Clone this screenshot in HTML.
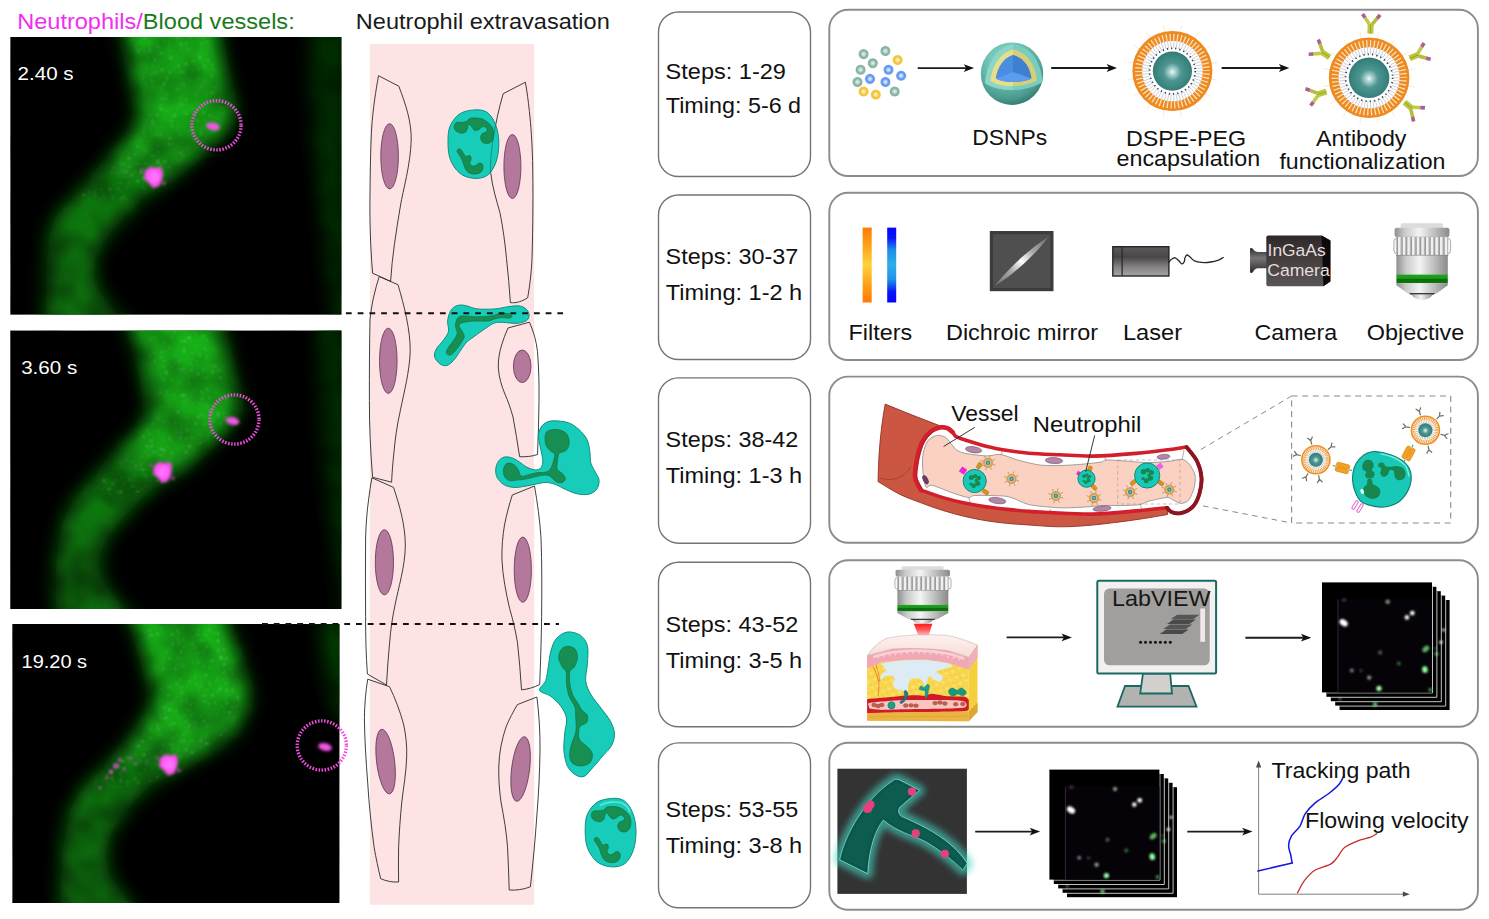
<!DOCTYPE html>
<html lang="en"><head><meta charset="utf-8"><title>Neutrophil tracking protocol overview</title>
<style>
html,body{margin:0;padding:0;background:#fff;}
body{width:1489px;height:919px;overflow:hidden;font-family:"Liberation Sans",sans-serif;}
svg{display:block;}
text{font-family:"Liberation Sans",sans-serif;}
</style></head><body>
<svg width="1489" height="919" viewBox="0 0 1489 919">
<!-- 00_defs.py -->
<defs>
<filter id="bl10" filterUnits="userSpaceOnUse" x="-50" y="-50" width="500" height="1050"><feGaussianBlur stdDeviation="9"/></filter>
<filter id="bl6" x="-30%" y="-30%" width="160%" height="160%"><feGaussianBlur stdDeviation="6"/></filter>
<filter id="bl3" x="-50%" y="-50%" width="200%" height="200%"><feGaussianBlur stdDeviation="3"/></filter>
<filter id="bl2" x="-50%" y="-50%" width="200%" height="200%"><feGaussianBlur stdDeviation="1.8"/></filter>
<filter id="bl1" x="-50%" y="-50%" width="200%" height="200%"><feGaussianBlur stdDeviation="1"/></filter>
<filter id="bl05" x="-50%" y="-50%" width="200%" height="200%"><feGaussianBlur stdDeviation="0.6"/></filter>
<filter id="speck" x="0" y="0" width="100%" height="100%">
  <feTurbulence type="fractalNoise" baseFrequency="0.35" numOctaves="2" seed="7" result="n"/>
  <feColorMatrix in="n" type="matrix" values="0 0 0 0 0.75  0 0 0 0 1  0 0 0 0 0.75  0 0 0 9 -6.1"/>
  <feGaussianBlur stdDeviation="0.9"/>
</filter>
<filter id="mott" x="0" y="0" width="100%" height="100%">
  <feTurbulence type="fractalNoise" baseFrequency="0.03" numOctaves="2" seed="11"/>
  <feColorMatrix type="matrix" values="0 0 0 0 0  0 0 0 0 0  0 0 0 0 0  0.75 0 0 0 -0.25"/>
</filter>
<marker id="ah" viewBox="0 0 12 10" refX="11" refY="5" markerWidth="12" markerHeight="10" markerUnits="userSpaceOnUse" orient="auto"><path d="M0,0.6 L12,5 L0,9.4 L3,5 Z" fill="#111"/></marker>
</defs>
<!-- 10_boxes.py -->
<rect x="658.5" y="12.0" width="152" height="164.5" rx="20" ry="20" fill="#fff" stroke="#747474" stroke-width="1.4"/>
<text x="665.6" y="78.5" font-size="22.0" fill="#111" textLength="120.3" lengthAdjust="spacingAndGlyphs" >Steps: 1-29</text>
<text x="665.8" y="113.4" font-size="22.0" fill="#111" textLength="135.3" lengthAdjust="spacingAndGlyphs" >Timing: 5-6 d</text>
<rect x="658.5" y="195.0" width="152" height="164.5" rx="20" ry="20" fill="#fff" stroke="#747474" stroke-width="1.4"/>
<text x="665.6" y="264.2" font-size="22.0" fill="#111" textLength="132.6" lengthAdjust="spacingAndGlyphs" >Steps: 30-37</text>
<text x="665.8" y="299.8" font-size="22.0" fill="#111" textLength="136.4" lengthAdjust="spacingAndGlyphs" >Timing: 1-2 h</text>
<rect x="658.5" y="377.9" width="152" height="165.3" rx="20" ry="20" fill="#fff" stroke="#747474" stroke-width="1.4"/>
<text x="665.6" y="447.2" font-size="22.0" fill="#111" textLength="132.6" lengthAdjust="spacingAndGlyphs" >Steps: 38-42</text>
<text x="665.8" y="482.7" font-size="22.0" fill="#111" textLength="136.4" lengthAdjust="spacingAndGlyphs" >Timing: 1-3 h</text>
<rect x="658.5" y="562.2" width="152" height="164.6" rx="20" ry="20" fill="#fff" stroke="#747474" stroke-width="1.4"/>
<text x="665.6" y="632.2" font-size="22.0" fill="#111" textLength="132.6" lengthAdjust="spacingAndGlyphs" >Steps: 43-52</text>
<text x="665.8" y="667.7" font-size="22.0" fill="#111" textLength="136.4" lengthAdjust="spacingAndGlyphs" >Timing: 3-5 h</text>
<rect x="658.5" y="742.9" width="152" height="164.9" rx="20" ry="20" fill="#fff" stroke="#747474" stroke-width="1.4"/>
<text x="665.6" y="817.0" font-size="22.0" fill="#111" textLength="132.6" lengthAdjust="spacingAndGlyphs" >Steps: 53-55</text>
<text x="665.8" y="852.7" font-size="22.0" fill="#111" textLength="136.4" lengthAdjust="spacingAndGlyphs" >Timing: 3-8 h</text>
<rect x="829.3" y="9.8" width="648.6" height="166.2" rx="18.8" ry="18.8" fill="#fff" stroke="#8c8c8c" stroke-width="1.9"/>
<rect x="829.3" y="192.8" width="648.6" height="167.2" rx="18.8" ry="18.8" fill="#fff" stroke="#8c8c8c" stroke-width="1.9"/>
<rect x="829.3" y="376.6" width="648.6" height="166.2" rx="18.8" ry="18.8" fill="#fff" stroke="#8c8c8c" stroke-width="1.9"/>
<rect x="829.3" y="560.3" width="648.6" height="166.5" rx="18.8" ry="18.8" fill="#fff" stroke="#8c8c8c" stroke-width="1.9"/>
<rect x="829.3" y="742.8" width="648.6" height="167.0" rx="18.8" ry="18.8" fill="#fff" stroke="#8c8c8c" stroke-width="1.9"/>
<!-- 20_micro.py -->
<text x="17.2" y="29.3" font-size="22" textLength="277.5" lengthAdjust="spacingAndGlyphs"><tspan fill="#f22df2">Neutrophils/</tspan><tspan fill="#1a7a1a">Blood vessels:</tspan></text>
<clipPath id="mc1"><rect x="10.4" y="37.0" width="331.0" height="277.6"/></clipPath>
<linearGradient id="vg1" gradientUnits="userSpaceOnUse" x1="0" y1="37.0" x2="0" y2="314.6"><stop offset="0" stop-color="#18b018"/><stop offset="0.40" stop-color="#18a818"/><stop offset="0.56" stop-color="#0e7a0e"/><stop offset="1" stop-color="#0a690a"/></linearGradient>
<rect x="10.4" y="37.0" width="331.0" height="277.6" fill="#000"/>
<g clip-path="url(#mc1)">
<path d="M309,20 L350,20 L350,330 L334,330 C322,230 308,120 309,20Z" fill="#043204" opacity="0.92" filter="url(#bl10)"/>
<path d="M120.0,10.0 C105.0,14.5 122.1,27.0 124.0,37.0 C125.9,47.0 129.3,59.5 131.5,70.0 C133.7,80.5 135.9,92.7 137.0,100.0 C138.1,107.3 138.7,109.0 138.0,114.0 C137.3,119.0 136.2,124.2 133.0,130.0 C129.8,135.8 124.7,141.5 119.0,148.5 C113.3,155.5 106.8,163.8 99.0,172.0 C91.2,180.2 79.8,189.9 72.4,198.0 C65.0,206.1 58.5,213.1 54.6,220.6 C50.7,228.1 50.3,235.6 49.0,243.0 C47.7,250.4 47.3,257.6 46.8,265.0 C46.2,272.4 45.9,279.3 45.7,287.5 C45.5,295.7 45.7,304.4 45.7,314.0 C45.8,323.6 31.1,339.8 46.0,345.0 C60.9,350.2 123.2,350.2 135.0,345.0 C146.8,339.8 123.3,323.6 117.0,314.0 C110.7,304.4 100.7,295.7 97.0,287.5 C93.3,279.3 93.6,272.4 94.7,265.0 C95.8,257.6 99.1,250.4 103.6,243.0 C108.1,235.6 114.8,228.1 121.5,220.6 C128.2,213.1 134.4,206.1 143.8,198.0 C153.2,189.9 168.0,180.0 178.0,172.0 C188.0,164.0 196.3,156.7 204.0,150.0 C211.7,143.3 219.3,138.0 224.0,132.0 C228.7,126.0 230.8,119.3 232.0,114.0 C233.2,108.7 232.3,107.3 231.0,100.0 C229.7,92.7 226.3,80.5 224.0,70.0 C221.7,59.5 219.1,47.0 217.4,37.0 C215.7,27.0 230.2,14.5 214.0,10.0 C197.8,5.5 135.0,5.5 120.0,10.0Z" fill="url(#vg1)" filter="url(#bl10)"/>
<clipPath id="mv1"><path d="M129.0,10.0 C117.0,14.5 131.1,27.0 133.0,37.0 C134.9,47.0 138.3,59.5 140.5,70.0 C142.7,80.5 144.9,92.7 146.0,100.0 C147.1,107.3 147.7,109.0 147.0,114.0 C146.3,119.0 145.2,124.2 142.0,130.0 C138.8,135.8 133.7,141.5 128.0,148.5 C122.3,155.5 115.8,163.8 108.0,172.0 C100.2,180.2 76.9,193.7 81.4,198.0 C85.9,202.3 120.2,202.3 134.8,198.0 C149.4,193.7 159.0,180.0 169.0,172.0 C179.0,164.0 187.3,156.7 195.0,150.0 C202.7,143.3 210.3,138.0 215.0,132.0 C219.7,126.0 221.8,119.3 223.0,114.0 C224.2,108.7 223.3,107.3 222.0,100.0 C220.7,92.7 217.3,80.5 215.0,70.0 C212.7,59.5 210.1,47.0 208.4,37.0 C206.7,27.0 218.2,14.5 205.0,10.0 C191.8,5.5 141.0,5.5 129.0,10.0Z"/></clipPath>
<g clip-path="url(#mv1)" opacity="0.5"><rect x="10.4" y="37.0" width="331.0" height="277.6" filter="url(#speck)"/></g>
<rect x="10.4" y="37.0" width="331.0" height="277.6" filter="url(#mott)"/>

<g filter="url(#bl2)"><path d="M153.0,176.0 m-8,-5 l5,-4 l6,1 l5,-1 l2,6 l-1,7 l-3,6 l-6,2 l-4,-5 l-5,-4Z" fill="#ff50f0"/><ellipse cx="154.0" cy="177.0" rx="5.5" ry="6" fill="#ff70ff"/><circle cx="164.0" cy="183.0" r="1.6" fill="#e048d8"/><circle cx="142.0" cy="170.0" r="1.3" fill="#d040c8"/></g>
<g filter="url(#bl2)"><ellipse cx="213.0" cy="126.5" rx="7" ry="3.8" fill="#f455e6" transform="rotate(12 213.0 126.5)"/></g>
</g>
<circle cx="216.5" cy="125.3" r="24.6" fill="none" stroke="#f04ae0" stroke-width="3.4" stroke-dasharray="1.5457 1.5457"/>
<text x="17.6" y="80.3" font-size="19.0" fill="#fff" textLength="56.0" lengthAdjust="spacingAndGlyphs" >2.40 s</text>
<clipPath id="mc2"><rect x="10.3" y="330.6" width="331.1" height="278.4"/></clipPath>
<linearGradient id="vg2" gradientUnits="userSpaceOnUse" x1="0" y1="330.6" x2="0" y2="609.0"><stop offset="0" stop-color="#18b018"/><stop offset="0.40" stop-color="#18a818"/><stop offset="0.56" stop-color="#0e7a0e"/><stop offset="1" stop-color="#0a690a"/></linearGradient>
<rect x="10.3" y="330.6" width="331.1" height="278.4" fill="#000"/>
<g clip-path="url(#mc2)">
<path d="M318,310 L352,310 L352,625 L344,625 C330,520 316,420 318,310Z" fill="#043204" opacity="0.92" filter="url(#bl10)"/>
<path d="M128.0,300.0 C113.8,305.0 129.2,319.4 131.5,330.0 C133.8,340.6 138.8,353.1 141.5,363.4 C144.2,373.7 146.3,384.6 147.5,392.0 C148.7,399.4 149.2,402.7 148.5,408.0 C147.8,413.3 146.6,418.3 143.0,424.0 C139.4,429.7 133.3,434.8 127.0,442.0 C120.7,449.2 112.6,458.6 105.0,467.0 C97.4,475.4 87.8,484.4 81.3,492.3 C74.8,500.2 69.2,507.2 65.7,514.6 C62.2,522.1 61.7,529.6 60.2,537.0 C58.7,544.4 57.5,551.6 56.8,559.0 C56.0,566.4 55.7,573.3 55.7,581.5 C55.7,589.7 56.4,598.2 56.8,608.0 C57.2,617.8 44.1,634.7 58.0,640.0 C71.9,645.3 129.1,645.3 140.0,640.0 C150.9,634.7 129.8,617.8 123.7,608.0 C117.6,598.2 107.7,589.7 103.6,581.5 C99.5,573.3 98.5,566.4 99.2,559.0 C99.9,551.6 103.5,544.4 108.0,537.0 C112.5,529.6 119.3,522.1 126.0,514.6 C132.7,507.2 138.2,500.2 148.2,492.3 C158.2,484.4 175.6,475.2 186.0,467.0 C196.4,458.8 203.4,450.0 210.7,443.0 C218.0,436.0 225.5,430.8 230.0,425.0 C234.5,419.2 236.4,413.5 237.5,408.0 C238.6,402.5 237.8,399.4 236.5,392.0 C235.2,384.6 232.2,373.7 229.6,363.4 C227.0,353.1 222.8,340.6 220.7,330.0 C218.6,319.4 232.4,305.0 217.0,300.0 C201.6,295.0 142.2,295.0 128.0,300.0Z" fill="url(#vg2)" filter="url(#bl10)"/>
<clipPath id="mv2"><path d="M137.0,300.0 C125.8,305.0 138.2,319.4 140.5,330.0 C142.8,340.6 147.8,353.1 150.5,363.4 C153.2,373.7 155.3,384.6 156.5,392.0 C157.7,399.4 158.2,402.7 157.5,408.0 C156.8,413.3 155.6,418.3 152.0,424.0 C148.4,429.7 142.3,434.8 136.0,442.0 C129.7,449.2 121.6,458.6 114.0,467.0 C106.4,475.4 86.1,488.1 90.3,492.3 C94.5,496.5 124.7,496.5 139.2,492.3 C153.6,488.1 166.6,475.2 177.0,467.0 C187.4,458.8 194.4,450.0 201.7,443.0 C209.0,436.0 216.5,430.8 221.0,425.0 C225.5,419.2 227.4,413.5 228.5,408.0 C229.6,402.5 228.8,399.4 227.5,392.0 C226.2,384.6 223.2,373.7 220.6,363.4 C218.0,353.1 213.8,340.6 211.7,330.0 C209.6,319.4 220.4,305.0 208.0,300.0 C195.6,295.0 148.2,295.0 137.0,300.0Z"/></clipPath>
<g clip-path="url(#mv2)" opacity="0.5"><rect x="10.3" y="330.6" width="331.1" height="278.4" filter="url(#speck)"/></g>
<rect x="10.3" y="330.6" width="331.1" height="278.4" filter="url(#mott)"/>

<g filter="url(#bl2)"><path d="M162.0,471.0 m-8,-5 l5,-4 l6,1 l5,-1 l2,6 l-1,7 l-3,6 l-6,2 l-4,-5 l-5,-4Z" fill="#ff50f0"/><ellipse cx="163.0" cy="472.0" rx="5.5" ry="6" fill="#ff70ff"/><circle cx="173.0" cy="478.0" r="1.6" fill="#e048d8"/><circle cx="151.0" cy="465.0" r="1.3" fill="#d040c8"/></g>
<g filter="url(#bl2)"><ellipse cx="232.5" cy="421.0" rx="7" ry="3.8" fill="#f455e6" transform="rotate(12 232.5 421.0)"/></g>
</g>
<circle cx="234.4" cy="419.5" r="24.6" fill="none" stroke="#f04ae0" stroke-width="3.4" stroke-dasharray="1.5457 1.5457"/>
<text x="21.2" y="374.4" font-size="19.0" fill="#fff" textLength="56.0" lengthAdjust="spacingAndGlyphs" >3.60 s</text>
<clipPath id="mc3"><rect x="12.4" y="624.0" width="327.0" height="279.0"/></clipPath>
<linearGradient id="vg3" gradientUnits="userSpaceOnUse" x1="0" y1="624.0" x2="0" y2="903.0"><stop offset="0" stop-color="#18b018"/><stop offset="0.40" stop-color="#18a818"/><stop offset="0.56" stop-color="#0e7a0e"/><stop offset="1" stop-color="#0a690a"/></linearGradient>
<rect x="12.4" y="624.0" width="327.0" height="279.0" fill="#000"/>
<g clip-path="url(#mc3)">
<path d="M320,600 L352,600 L352,722 L340,722 C328,690 318,650 320,600Z" fill="#043a04" filter="url(#bl10)"/>
<path d="M130.0,596.0 C115.4,600.7 132.1,614.0 134.5,624.0 C136.9,634.0 141.9,645.8 144.7,656.0 C147.4,666.2 149.9,677.3 151.0,685.0 C152.1,692.7 152.3,696.3 151.5,702.0 C150.7,707.7 149.2,713.0 146.0,719.0 C142.8,725.0 137.8,730.8 132.0,738.0 C126.2,745.2 118.8,754.2 111.0,762.0 C103.2,769.8 92.0,777.4 85.4,785.0 C78.9,792.6 74.9,800.1 71.7,807.7 C68.5,815.3 67.5,823.0 66.0,830.5 C64.5,838.0 63.3,845.4 62.5,853.0 C61.7,860.6 61.6,867.8 61.4,876.0 C61.2,884.2 61.3,892.2 61.4,902.0 C61.5,911.8 48.1,929.5 62.0,935.0 C75.9,940.5 133.9,940.5 145.0,935.0 C156.1,929.5 134.4,911.8 128.7,902.0 C122.9,892.2 114.3,884.2 110.5,876.0 C106.7,867.8 105.6,860.6 106.0,853.0 C106.4,845.4 109.0,838.0 112.8,830.5 C116.6,823.0 122.2,815.3 128.7,807.7 C135.2,800.1 141.4,792.6 151.6,785.0 C161.8,777.4 177.4,769.7 190.0,762.0 C202.6,754.3 218.2,746.2 227.0,739.0 C235.8,731.8 239.5,725.2 243.0,719.0 C246.5,712.8 247.3,707.7 248.0,702.0 C248.7,696.3 248.6,692.7 247.0,685.0 C245.4,677.3 241.7,666.2 238.4,656.0 C235.1,645.8 229.7,634.0 227.0,624.0 C224.3,614.0 238.2,600.7 222.0,596.0 C205.8,591.3 144.6,591.3 130.0,596.0Z" fill="url(#vg3)" filter="url(#bl10)"/>
<clipPath id="mv3"><path d="M139.0,596.0 C127.4,600.7 141.1,614.0 143.5,624.0 C145.9,634.0 150.9,645.8 153.7,656.0 C156.4,666.2 158.9,677.3 160.0,685.0 C161.1,692.7 161.3,696.3 160.5,702.0 C159.7,707.7 158.2,713.0 155.0,719.0 C151.8,725.0 146.8,730.8 141.0,738.0 C135.2,745.2 127.8,754.2 120.0,762.0 C112.2,769.8 90.6,781.2 94.4,785.0 C98.2,788.8 128.2,788.8 142.6,785.0 C157.0,781.2 168.4,769.7 181.0,762.0 C193.6,754.3 209.2,746.2 218.0,739.0 C226.8,731.8 230.5,725.2 234.0,719.0 C237.5,712.8 238.3,707.7 239.0,702.0 C239.7,696.3 239.6,692.7 238.0,685.0 C236.4,677.3 232.7,666.2 229.4,656.0 C226.1,645.8 220.7,634.0 218.0,624.0 C215.3,614.0 226.2,600.7 213.0,596.0 C199.8,591.3 150.6,591.3 139.0,596.0Z"/></clipPath>
<g clip-path="url(#mv3)" opacity="0.5"><rect x="12.4" y="624.0" width="327.0" height="279.0" filter="url(#speck)"/></g>
<rect x="12.4" y="624.0" width="327.0" height="279.0" filter="url(#mott)"/>
<g filter="url(#bl1)" fill="#c050b8" opacity="0.85"><circle cx="116" cy="766" r="3"/><circle cx="111" cy="772" r="2.4"/><circle cx="120" cy="760" r="2"/><circle cx="107" cy="778" r="1.6"/><circle cx="124" cy="769" r="1.8"/><circle cx="100" cy="788" r="1.4"/><circle cx="130" cy="758" r="1.5"/><circle cx="136" cy="764" r="1.3"/></g>
<g filter="url(#bl2)"><path d="M168.0,763.5 m-8,-5 l5,-4 l6,1 l5,-1 l2,6 l-1,7 l-3,6 l-6,2 l-4,-5 l-5,-4Z" fill="#ff50f0"/><ellipse cx="169.0" cy="764.5" rx="5.5" ry="6" fill="#ff70ff"/><circle cx="179.0" cy="770.5" r="1.6" fill="#e048d8"/><circle cx="157.0" cy="757.5" r="1.3" fill="#d040c8"/></g>
<g filter="url(#bl2)"><ellipse cx="325.0" cy="747.0" rx="7" ry="3.8" fill="#f455e6" transform="rotate(12 325.0 747.0)"/></g>
</g>
<circle cx="321.8" cy="745.5" r="24.6" fill="none" stroke="#f04ae0" stroke-width="3.4" stroke-dasharray="1.5457 1.5457"/>
<text x="21.6" y="667.8" font-size="19.0" fill="#fff" textLength="65.5" lengthAdjust="spacingAndGlyphs" >19.20 s</text>
<!-- 30_middle.py -->
<text x="355.8" y="28.6" font-size="21.8" fill="#1a1a1a" textLength="254" lengthAdjust="spacingAndGlyphs">Neutrophil extravasation</text>
<rect x="369.9" y="44" width="164.2" height="860.7" fill="#fde3e3"/>
<path d="M378.5,75.7 L398.8,86.2 C406,105 411.5,122 411.2,140 C410.5,165 403,190 400.4,206 C396,232 392,258 390.6,281.4 L372.6,273.2 C370.2,245 369.6,215 370,193 C370.3,165 370.8,142 371.7,128 C373,108 376,90 378.5,75.7Z" fill="none" stroke="#2a2a2a" stroke-width="0.9" stroke-linejoin="round"/>
<path d="M525.4,82.2 L503.2,93.7 C499,108 495.5,124 493.4,137.7 C491,152 490,164 490.8,173.6 C492.5,188 496.5,200 500,212.8 C503,228 505,243 506.5,258.5 C508,273 509.5,288 510.4,302.6 C516,303.5 523,301 527.7,297.7 C530,285 531.5,271 532,258.5 C533,225 533.2,190 532.6,160.6 C532,142 531,126 529.4,111.6 C528.3,101 527,91 525.4,82.2Z" fill="none" stroke="#2a2a2a" stroke-width="0.9" stroke-linejoin="round"/>
<path d="M379.2,276.5 L398,284.7 C404,305 410.5,330 410.2,351.6 C409.5,372 404,392 400.4,410.4 C397,425 395,440 393.9,452.8 C392.8,463 392,473 391.6,482.2 L372.6,477.3 C370.5,452 369.3,425 369.4,400.6 C369.3,372 369.5,345 370,319 C371.5,304 375,290 379.2,276.5Z" fill="none" stroke="#2a2a2a" stroke-width="0.9" stroke-linejoin="round"/>
<path d="M508,328 L529.4,322.2 C533.5,331 536.3,341 537.5,351.6 C538.8,368 539.2,384 539,400.6 C538.8,419 538.3,437 537.5,454.5 C532,456.5 525,457 519.6,456.7 C517.5,443 515.5,430 513,417 C510.5,408 508,401 504.9,394 C501.5,386 499,377 498.3,368 C498,360 499.5,352 501.6,345 C503.5,339 505.5,333.5 508,328Z" fill="none" stroke="#2a2a2a" stroke-width="0.9" stroke-linejoin="round"/>
<path d="M371.9,477.8 L393.5,487.4 C399.5,505 405.5,526 405.3,546.2 C405,567 398.5,587 394.8,606.2 C392.3,618 390.6,630 389.6,642.8 C388.3,657 387.2,671 386.5,685 L367.4,674 C366,655 365.6,636 365.6,616.7 C365.4,590 365.4,564 365.6,538 C366,524 367,511 368.7,499 C369.5,492 370.6,485 371.9,477.8Z" fill="none" stroke="#2a2a2a" stroke-width="0.9" stroke-linejoin="round"/>
<path d="M512.3,495 L534.5,486 C537.5,503 539.8,520 541,538 C542,564 541.9,590 541.6,616.7 C541.3,640 540.6,662 539.7,684.5 C534,687.5 527.5,689.3 521.5,689.8 C520.5,674 519.2,658 517.5,642.8 C515.6,631 513,620 509.7,608.8 C506,593 502.6,576 501.9,559 C501.7,547 502.7,536 504.5,525 C506.5,515 509,505 512.3,495Z" fill="none" stroke="#2a2a2a" stroke-width="0.9" stroke-linejoin="round"/>
<path d="M367.7,679.2 L389.5,686.7 C395,698 400,711 403.5,724 C406,735 407,746 406.7,756.7 C406.3,772 403.5,787 401.8,802 C400.3,817 399.2,832 398.6,847.8 C398.4,859 398.4,871 398.6,882 C392.5,882.5 386,881 380.7,878.7 C378.3,869 376,858 374.2,847.8 C371.2,826 369,804 367.7,782.7 C366,761 364.6,739 364.4,717.6 C364.6,704 365.8,691 367.7,679.2Z" fill="none" stroke="#2a2a2a" stroke-width="0.9" stroke-linejoin="round"/>
<path d="M517.4,704.6 L536.9,697 C539,714 540.2,732 540,750 C539.8,772 538.6,794 536.9,815 C535.3,839 533,863 530.4,886.8 C523.5,889.5 516,890.5 509.2,890 C508.8,876 508.3,862 507.6,847.8 C506.5,832 503.8,817 501,802 C499.3,790 498.5,778 498.8,766 C499.2,752 502,739 506,727 C509.3,719 513,712 517.4,704.6Z" fill="none" stroke="#2a2a2a" stroke-width="0.9" stroke-linejoin="round"/>
<ellipse cx="389.6" cy="156.3" rx="8.8" ry="32.6" fill="#b3789c" stroke="#5e3550" stroke-width="0.8" transform="rotate(0 389.6 156.3)"/>
<ellipse cx="512.4" cy="166.5" rx="8.5" ry="32.0" fill="#b3789c" stroke="#5e3550" stroke-width="0.8" transform="rotate(0 512.4 166.5)"/>
<ellipse cx="388.3" cy="360.8" rx="8.8" ry="32.6" fill="#b3789c" stroke="#5e3550" stroke-width="0.8" transform="rotate(0 388.3 360.8)"/>
<ellipse cx="522.2" cy="366.3" rx="8.8" ry="16.3" fill="#b3789c" stroke="#5e3550" stroke-width="0.8" transform="rotate(0 522.2 366.3)"/>
<ellipse cx="384.4" cy="562.3" rx="9.1" ry="32.6" fill="#b3789c" stroke="#5e3550" stroke-width="0.8" transform="rotate(0 384.4 562.3)"/>
<ellipse cx="522.8" cy="569.7" rx="8.6" ry="32.6" fill="#b3789c" stroke="#5e3550" stroke-width="0.8" transform="rotate(0 522.8 569.7)"/>
<ellipse cx="385.6" cy="761.6" rx="9.0" ry="32.5" fill="#b3789c" stroke="#5e3550" stroke-width="0.8" transform="rotate(-7 385.6 761.6)"/>
<ellipse cx="520.6" cy="769.0" rx="9.0" ry="32.5" fill="#b3789c" stroke="#5e3550" stroke-width="0.8" transform="rotate(7 520.6 769.0)"/>
<path d="M473.5,110.0 C478.0,109.7 483.0,109.7 486.6,112.0 C490.2,114.3 493.3,119.0 495.3,123.9 C497.3,128.8 498.6,135.1 498.8,141.3 C499.0,147.5 498.2,155.3 496.4,160.9 C494.5,166.5 491.5,172.2 487.7,175.1 C483.9,178.0 478.2,178.7 473.5,178.3 C468.8,177.9 463.3,176.2 459.4,172.9 C455.5,169.7 452.0,164.1 450.1,158.8 C448.2,153.5 448.0,146.8 448.0,141.3 C448.0,135.9 448.2,130.6 450.1,126.1 C452.0,121.6 455.5,116.8 459.4,114.1 C463.3,111.4 469.0,110.3 473.5,110.0Z" fill="#17ccb9" stroke="#0e8f80" stroke-width="1"/>
<path d="M454.5,124.5 C455.0,123.4 455.9,122.7 457.2,122.3 C458.6,122.0 461.1,122.5 462.7,122.3 C464.3,122.1 465.9,121.9 467.0,121.2 C468.2,120.6 468.3,119.0 469.8,118.5 C471.2,118.0 473.7,117.9 475.7,118.0 C477.8,118.1 480.3,118.3 482.3,119.0 C484.3,119.8 486.1,121.0 487.7,122.3 C489.3,123.7 491.1,125.5 492.1,127.2 C493.1,128.9 493.5,130.8 493.7,132.7 C493.9,134.5 493.6,136.6 493.2,138.1 C492.7,139.6 492.1,141.0 491.0,141.9 C489.9,142.8 488.1,143.5 486.6,143.5 C485.2,143.5 483.3,142.9 482.3,141.9 C481.3,140.9 480.6,138.9 480.6,137.5 C480.6,136.2 481.4,134.6 482.3,133.7 C483.2,132.8 485.3,132.8 486.1,132.1 C486.9,131.4 487.4,130.3 487.2,129.4 C486.9,128.5 485.4,127.0 484.5,126.7 C483.5,126.3 482.6,126.8 481.7,127.2 C480.8,127.7 480.0,128.8 479.0,129.4 C478.0,129.9 476.7,130.6 475.7,130.5 C474.8,130.4 473.8,129.7 473.0,128.8 C472.2,128.0 471.6,126.3 470.9,125.6 C470.1,124.9 469.2,124.2 468.7,124.5 C468.1,124.8 467.9,126.1 467.6,127.2 C467.2,128.3 467.3,130.0 466.5,131.0 C465.7,132.0 464.1,133.0 462.7,133.2 C461.2,133.4 459.2,132.8 457.8,132.1 C456.4,131.4 455.1,130.1 454.5,128.8 C454.0,127.6 454.1,125.6 454.5,124.5Z" fill="#178f52" stroke="#12703f" stroke-width="0.7"/>
<path d="M457.8,149.5 C458.3,149.1 459.2,148.7 460.0,149.0 C460.7,149.2 461.4,150.2 462.1,151.1 C462.9,152.1 463.6,154.1 464.3,155.0 C465.0,155.9 465.8,156.5 466.5,156.6 C467.2,156.7 467.9,155.5 468.7,155.5 C469.4,155.5 470.5,155.9 470.9,156.6 C471.2,157.3 471.0,158.8 470.9,159.9 C470.7,160.9 469.6,162.1 469.8,163.1 C469.9,164.1 471.0,165.4 471.9,165.8 C472.8,166.3 474.2,166.2 475.2,165.8 C476.2,165.5 477.0,164.1 477.9,163.7 C478.8,163.2 479.8,162.8 480.6,163.1 C481.5,163.4 482.5,164.3 482.8,165.3 C483.2,166.3 483.2,167.9 482.8,169.1 C482.5,170.3 481.7,171.6 480.6,172.4 C479.6,173.2 477.8,173.8 476.3,174.0 C474.8,174.2 472.8,174.1 471.4,173.8 C469.9,173.4 468.7,172.8 467.6,171.8 C466.5,170.9 465.6,169.5 464.9,168.0 C464.1,166.6 463.8,164.7 463.2,163.1 C462.7,161.6 462.3,160.2 461.6,158.8 C460.9,157.3 459.6,155.6 458.9,154.4 C458.1,153.2 457.2,152.2 457.0,151.4 C456.9,150.6 457.3,149.9 457.8,149.5Z" fill="#178f52" stroke="#12703f" stroke-width="0.7"/>
<path d="M525.4,82.2 L503.2,93.7 C499,108 495.5,124 493.4,137.7 C491,152 490,164 490.8,173.6 C492.5,188 496.5,200 500,212.8 C503,228 505,243 506.5,258.5 C508,273 509.5,288 510.4,302.6 C516,303.5 523,301 527.7,297.7 C530,285 531.5,271 532,258.5 C533,225 533.2,190 532.6,160.6 C532,142 531,126 529.4,111.6 C528.3,101 527,91 525.4,82.2Z" fill="none" stroke="#0d6f63" stroke-width="0.8" opacity="0.8" clip-path="url(#n1clip)"/>
<clipPath id="n1clip"><path d="M473.5,110.0 C478.0,109.7 483.0,109.7 486.6,112.0 C490.2,114.3 493.3,119.0 495.3,123.9 C497.3,128.8 498.6,135.1 498.8,141.3 C499.0,147.5 498.2,155.3 496.4,160.9 C494.5,166.5 491.5,172.2 487.7,175.1 C483.9,178.0 478.2,178.7 473.5,178.3 C468.8,177.9 463.3,176.2 459.4,172.9 C455.5,169.7 452.0,164.1 450.1,158.8 C448.2,153.5 448.0,146.8 448.0,141.3 C448.0,135.9 448.2,130.6 450.1,126.1 C452.0,121.6 455.5,116.8 459.4,114.1 C463.3,111.4 469.0,110.3 473.5,110.0Z"/></clipPath>
<path d="M459.8,305.0 C461.9,304.9 463.9,305.2 466.8,305.9 C469.7,306.5 472.6,308.4 477.3,308.9 C481.9,309.4 489.6,309.3 494.7,308.9 C499.7,308.6 503.7,307.3 507.7,306.8 C511.8,306.2 516.0,305.5 519.1,305.9 C522.1,306.2 524.3,307.5 526.0,308.9 C527.7,310.4 528.9,312.7 529.1,314.6 C529.2,316.5 528.8,318.8 526.9,320.3 C524.9,321.7 521.2,322.9 517.3,323.3 C513.4,323.7 507.2,322.5 503.4,322.4 C499.6,322.4 497.6,321.9 494.7,322.9 C491.8,323.8 489.4,325.8 486.0,328.1 C482.5,330.4 477.1,334.3 473.8,336.8 C470.4,339.3 468.3,340.4 465.9,342.9 C463.6,345.4 461.9,348.7 459.8,351.6 C457.8,354.5 455.9,358.0 453.7,360.3 C451.6,362.6 449.1,365.0 446.8,365.5 C444.4,366.1 441.8,365.2 439.8,363.8 C437.8,362.3 435.2,359.3 434.6,356.8 C434.0,354.4 434.9,351.8 436.3,349.0 C437.8,346.2 441.3,343.2 443.3,340.3 C445.3,337.4 447.8,334.8 448.5,331.6 C449.2,328.4 447.4,324.5 447.6,321.1 C447.9,317.8 449.1,313.9 450.3,311.5 C451.4,309.2 453.0,307.8 454.6,306.8 C456.2,305.7 457.8,305.2 459.8,305.0Z" fill="#17ccb9" stroke="#0e8f80" stroke-width="1"/>
<path d="M458.1,317.6 C459.5,316.0 461.0,316.0 464.2,315.9 C467.4,315.8 472.8,316.8 477.3,316.8 C481.8,316.8 487.4,316.4 491.2,315.9 C495.0,315.4 497.0,314.1 499.9,313.7 C502.8,313.4 506.6,313.4 508.6,313.7 C510.6,314.1 511.9,315.2 512.1,315.9 C512.2,316.6 511.2,317.8 509.5,318.1 C507.7,318.4 504.1,317.5 501.6,317.6 C499.2,317.8 497.0,318.4 494.7,318.9 C492.3,319.5 491.2,320.8 487.7,321.1 C484.2,321.5 478.1,320.8 473.8,321.1 C469.4,321.4 464.0,322.0 461.6,322.9 C459.2,323.7 459.3,324.9 459.4,326.4 C459.5,327.8 461.6,329.8 462.4,331.6 C463.2,333.3 464.3,335.1 464.2,336.8 C464.0,338.5 463.0,339.7 461.6,342.0 C460.1,344.3 457.4,348.6 455.5,350.7 C453.6,352.9 451.8,354.7 450.3,355.1 C448.7,355.5 446.6,354.2 446.3,352.9 C446.0,351.6 447.3,349.4 448.5,347.3 C449.7,345.1 452.3,342.6 453.7,340.3 C455.2,338.0 456.9,335.8 457.2,333.3 C457.5,330.9 455.3,328.1 455.5,325.5 C455.6,322.9 456.6,319.2 458.1,317.6Z" fill="#178f52" stroke="#12703f" stroke-width="0.7"/>
<path d="M553.6,420.8 C557.3,420.8 564.0,421.3 568.3,422.7 C572.5,424.2 575.9,426.8 579.0,429.6 C582.1,432.4 585.1,435.8 586.9,439.4 C588.7,443.0 589.2,447.2 589.8,451.1 C590.5,455.1 589.8,459.3 590.8,462.9 C591.8,466.5 594.3,469.8 595.7,472.7 C597.1,475.6 599.0,477.8 599.1,480.5 C599.3,483.3 598.4,487.1 596.7,489.3 C595.0,491.6 592.1,493.5 588.8,494.2 C585.6,495.0 581.0,494.6 577.1,493.8 C573.2,492.9 568.9,490.9 565.3,489.3 C561.7,487.8 558.8,485.6 555.5,484.5 C552.3,483.3 549.3,482.5 545.7,482.5 C542.1,482.5 537.6,483.8 534.0,484.5 C530.4,485.1 527.6,485.9 524.2,486.4 C520.8,486.9 516.8,487.7 513.4,487.4 C510.0,487.1 506.3,486.1 503.6,484.5 C500.9,482.8 498.6,480.2 497.2,477.6 C495.9,475.0 495.5,471.6 495.8,468.8 C496.0,466.0 497.2,462.9 498.7,460.9 C500.2,459.0 502.3,457.5 504.6,457.0 C506.9,456.5 510.0,457.2 512.4,458.0 C514.9,458.8 517.0,460.5 519.3,461.9 C521.6,463.4 523.7,465.5 526.1,466.8 C528.6,468.1 531.7,469.4 534.0,469.8 C536.3,470.1 538.4,469.9 539.9,468.8 C541.3,467.6 542.5,465.3 542.8,462.9 C543.1,460.5 542.3,457.0 541.8,454.1 C541.3,451.1 540.4,448.4 539.9,445.3 C539.3,442.2 538.2,438.4 538.4,435.5 C538.6,432.5 539.6,429.8 540.8,427.6 C542.1,425.5 543.6,423.9 545.7,422.7 C547.9,421.6 549.8,420.8 553.6,420.8Z" fill="#17ccb9" stroke="#0e8f80" stroke-width="1"/>
<path d="M547.7,431.1 C549.7,429.9 554.4,429.2 557.5,429.6 C560.6,430.0 564.3,431.4 566.3,433.5 C568.3,435.6 569.2,439.6 569.2,442.3 C569.2,445.1 567.9,448.4 566.3,450.2 C564.7,452.0 560.8,452.0 559.5,453.1 C558.1,454.2 558.4,455.1 558.0,457.0 C557.6,459.0 557.1,462.7 557.0,464.9 C556.9,467.0 556.6,468.3 557.5,469.8 C558.4,471.2 561.1,472.2 562.4,473.7 C563.7,475.1 565.3,477.1 565.3,478.6 C565.3,480.0 563.9,481.9 562.4,482.5 C560.9,483.1 558.1,482.7 556.5,482.0 C554.9,481.3 553.9,479.6 552.6,478.6 C551.3,477.5 550.1,476.2 548.7,475.6 C547.2,475.1 545.9,475.0 543.8,475.1 C541.7,475.3 538.6,476.0 535.9,476.6 C533.3,477.2 530.4,478.1 528.1,478.6 C525.8,479.1 524.0,479.3 522.2,479.6 C520.4,479.8 519.5,479.9 517.3,480.0 C515.2,480.2 511.6,481.1 509.5,480.5 C507.4,480.0 505.6,478.6 504.6,476.6 C503.6,474.7 503.2,471.0 503.6,468.8 C504.0,466.6 505.4,464.1 507.0,463.4 C508.7,462.7 511.5,463.3 513.4,464.4 C515.3,465.4 517.0,467.8 518.3,469.8 C519.6,471.7 519.5,475.3 521.2,476.1 C523.0,476.9 526.5,475.2 529.1,474.7 C531.7,474.1 534.1,473.1 536.9,472.7 C539.7,472.3 543.5,472.9 545.7,472.2 C548.0,471.6 549.3,470.7 550.6,468.8 C551.9,466.9 552.9,463.4 553.6,460.9 C554.2,458.5 555.2,455.9 554.6,454.1 C553.9,452.3 551.1,451.8 549.7,450.2 C548.2,448.5 546.5,446.6 545.7,444.3 C545.0,442.0 544.9,438.7 545.2,436.4 C545.6,434.2 545.7,432.2 547.7,431.1Z" fill="#178f52" stroke="#12703f" stroke-width="0.7"/>
<path d="M567.4,632.0 C571.5,631.4 577.1,633.1 580.5,635.4 C583.8,637.8 586.3,641.2 587.4,645.9 C588.6,650.5 587.7,657.5 587.4,663.3 C587.2,669.1 585.1,675.5 585.7,680.7 C586.3,685.9 588.3,690.0 590.9,694.6 C593.5,699.3 598.2,704.2 601.4,708.6 C604.6,712.9 607.9,716.7 610.1,720.7 C612.2,724.8 614.1,728.9 614.4,732.9 C614.7,737.0 613.7,741.3 611.8,745.1 C609.9,748.9 606.3,751.8 603.1,755.5 C599.9,759.3 595.9,764.3 592.7,767.7 C589.5,771.2 586.9,775.3 584.0,776.4 C581.1,777.6 578.0,776.4 575.3,774.7 C572.5,773.0 569.3,770.1 567.4,766.0 C565.5,761.9 564.4,755.8 563.9,750.3 C563.5,744.8 564.4,738.1 564.8,732.9 C565.2,727.7 567.1,723.3 566.6,719.0 C566.0,714.6 563.9,710.6 561.3,706.8 C558.7,703.0 554.5,699.1 550.9,696.4 C547.3,693.6 540.4,692.9 539.6,690.3 C538.7,687.7 544.2,684.6 545.7,680.7 C547.1,676.8 547.4,671.7 548.3,666.8 C549.1,661.8 549.6,655.8 550.9,651.1 C552.2,646.5 553.4,642.1 556.1,638.9 C558.9,635.7 563.4,632.5 567.4,632.0Z" fill="#17ccb9" stroke="#0e8f80" stroke-width="1"/>
<path d="M558.7,658.1 C558.6,655.2 559.8,651.3 561.3,649.4 C562.9,647.4 565.6,646.2 567.9,646.2 C570.3,646.2 573.7,647.4 575.3,649.4 C576.8,651.3 577.5,655.2 577.3,658.1 C577.2,661.0 575.6,664.6 574.4,666.8 C573.2,669.0 570.8,668.5 570.0,671.1 C569.3,673.7 569.3,678.5 569.7,682.4 C570.1,686.4 571.3,691.1 572.6,694.6 C574.0,698.1 576.3,700.7 577.9,703.3 C579.5,705.9 580.6,708.3 582.2,710.3 C583.8,712.3 586.7,713.5 587.4,715.5 C588.2,717.5 587.7,720.7 586.6,722.5 C585.4,724.2 581.8,724.5 580.5,726.0 C579.2,727.4 578.9,728.9 578.7,731.2 C578.6,733.5 578.2,737.3 579.6,739.9 C581.1,742.5 585.3,744.5 587.4,746.8 C589.6,749.2 591.9,751.2 592.3,753.8 C592.8,756.4 592.0,760.5 590.1,762.5 C588.1,764.5 583.5,766.0 580.5,766.0 C577.4,766.0 573.6,764.5 571.8,762.5 C570.0,760.5 569.7,757.0 569.7,753.8 C569.7,750.6 570.8,746.8 571.8,743.4 C572.8,739.9 574.9,736.1 575.6,732.9 C576.3,729.7 576.1,727.1 576.1,724.2 C576.1,721.3 575.8,718.4 575.6,715.5 C575.4,712.6 576.0,710.0 574.9,706.8 C573.8,703.6 570.6,700.1 569.2,696.4 C567.8,692.6 567.0,688.2 566.6,684.2 C566.1,680.1 566.9,674.9 566.2,672.0 C565.5,669.1 563.4,669.1 562.2,666.8 C561.0,664.5 558.9,661.0 558.7,658.1Z" fill="#178f52" stroke="#12703f" stroke-width="0.7"/>
<path d="M610.7,798.5 C615.2,798.1 620.2,798.2 623.8,800.5 C627.4,802.8 630.5,807.5 632.5,812.4 C634.5,817.3 635.8,823.6 636.0,829.8 C636.2,836.0 635.4,843.8 633.6,849.4 C631.7,855.0 628.7,860.7 624.9,863.6 C621.1,866.5 615.4,867.2 610.7,866.8 C606.0,866.4 600.5,864.6 596.6,861.4 C592.7,858.1 589.2,852.6 587.3,847.3 C585.4,842.0 585.2,835.2 585.2,829.8 C585.2,824.3 585.4,819.1 587.3,814.6 C589.2,810.1 592.7,805.3 596.6,802.6 C600.5,799.9 606.2,798.9 610.7,798.5Z" fill="#17ccb9" stroke="#0e8f80" stroke-width="1"/>
<path d="M600.5,805.2 C606,801.8 616,801 622.3,803.2 C626.3,805 628.8,808.2 629.8,811.8" fill="none" stroke="#5fe6d6" stroke-width="1.6" stroke-linecap="round"/>
<path d="M591.7,813.0 C592.2,811.9 593.1,811.2 594.4,810.8 C595.8,810.5 598.3,811.0 599.9,810.8 C601.5,810.6 603.1,810.4 604.2,809.7 C605.4,809.1 605.5,807.5 607.0,807.0 C608.4,806.5 610.9,806.4 612.9,806.5 C615.0,806.6 617.5,806.8 619.5,807.5 C621.5,808.3 623.3,809.5 624.9,810.8 C626.5,812.2 628.3,814.0 629.3,815.7 C630.3,817.4 630.7,819.3 630.9,821.2 C631.1,823.0 630.8,825.1 630.4,826.6 C629.9,828.1 629.3,829.5 628.2,830.4 C627.1,831.3 625.3,832.0 623.8,832.0 C622.4,832.0 620.5,831.4 619.5,830.4 C618.5,829.4 617.8,827.4 617.8,826.0 C617.8,824.7 618.6,823.1 619.5,822.2 C620.4,821.3 622.5,821.3 623.3,820.6 C624.1,819.9 624.6,818.8 624.4,817.9 C624.1,817.0 622.6,815.5 621.7,815.2 C620.7,814.8 619.8,815.3 618.9,815.7 C618.0,816.2 617.2,817.3 616.2,817.9 C615.2,818.4 613.9,819.1 612.9,819.0 C612.0,818.9 611.0,818.2 610.2,817.3 C609.4,816.5 608.8,814.8 608.1,814.1 C607.3,813.4 606.4,812.7 605.9,813.0 C605.3,813.3 605.1,814.6 604.8,815.7 C604.4,816.8 604.5,818.5 603.7,819.5 C602.9,820.5 601.3,821.5 599.9,821.7 C598.4,821.9 596.4,821.3 595.0,820.6 C593.6,819.9 592.3,818.6 591.7,817.3 C591.2,816.1 591.3,814.1 591.7,813.0Z" fill="#178f52" stroke="#12703f" stroke-width="0.7"/>
<path d="M595.0,838.0 C595.5,837.6 596.4,837.2 597.2,837.5 C597.9,837.7 598.6,838.7 599.3,839.6 C600.1,840.6 600.8,842.6 601.5,843.5 C602.2,844.4 603.0,845.0 603.7,845.1 C604.4,845.2 605.1,844.0 605.9,844.0 C606.6,844.0 607.7,844.4 608.1,845.1 C608.4,845.8 608.2,847.3 608.1,848.4 C607.9,849.4 606.8,850.6 607.0,851.6 C607.1,852.6 608.2,853.9 609.1,854.3 C610.0,854.8 611.4,854.7 612.4,854.3 C613.4,854.0 614.2,852.6 615.1,852.2 C616.0,851.7 617.0,851.3 617.8,851.6 C618.7,851.9 619.7,852.8 620.0,853.8 C620.4,854.8 620.4,856.4 620.0,857.6 C619.7,858.8 618.9,860.1 617.8,860.9 C616.8,861.7 615.0,862.3 613.5,862.5 C612.0,862.7 610.0,862.6 608.6,862.3 C607.1,861.9 605.9,861.3 604.8,860.3 C603.7,859.4 602.8,858.0 602.1,856.5 C601.3,855.1 601.0,853.2 600.4,851.6 C599.9,850.1 599.5,848.7 598.8,847.3 C598.1,845.8 596.8,844.1 596.1,842.9 C595.3,841.7 594.4,840.7 594.2,839.9 C594.1,839.1 594.5,838.4 595.0,838.0Z" fill="#178f52" stroke="#12703f" stroke-width="0.7"/>
<path d="M345.9,313.2 H563" stroke="#111" stroke-width="1.9" stroke-dasharray="5.8 5.95" fill="none"/>
<path d="M262,624 H559" stroke="#111" stroke-width="1.9" stroke-dasharray="5.8 5.95" fill="none"/>
<!-- 40_panel1.py -->
<defs>
<radialGradient id="coreg" cx="50%" cy="52%" r="50%"><stop offset="0" stop-color="#f2fbfa"/><stop offset="0.12" stop-color="#b9dcd9"/><stop offset="0.45" stop-color="#4d9691"/><stop offset="0.8" stop-color="#3c8782"/><stop offset="1" stop-color="#357c78"/></radialGradient>
<radialGradient id="dg" cx="50%" cy="50%" r="50%"><stop offset="0" stop-color="#e8f2ee"/><stop offset="0.3" stop-color="#c4dcd2"/><stop offset="0.62" stop-color="#86b3a3"/><stop offset="0.85" stop-color="#8ab5a6"/><stop offset="1" stop-color="#a8c8bc" stop-opacity="0.5"/></radialGradient>
<radialGradient id="dy" cx="50%" cy="50%" r="50%"><stop offset="0" stop-color="#fff8dc"/><stop offset="0.3" stop-color="#fde48e"/><stop offset="0.62" stop-color="#f3c136"/><stop offset="0.85" stop-color="#f4c848"/><stop offset="1" stop-color="#f8d878" stop-opacity="0.5"/></radialGradient>
<radialGradient id="db" cx="50%" cy="50%" r="50%"><stop offset="0" stop-color="#eaf2ff"/><stop offset="0.3" stop-color="#b4d0fb"/><stop offset="0.62" stop-color="#5a95f0"/><stop offset="0.85" stop-color="#6ea2f2"/><stop offset="1" stop-color="#98bef6" stop-opacity="0.5"/></radialGradient>
<radialGradient id="sph" cx="42%" cy="30%" r="75%"><stop offset="0" stop-color="#9adfd2"/><stop offset="0.45" stop-color="#6dc0b2"/><stop offset="0.8" stop-color="#4a9a8e"/><stop offset="1" stop-color="#2f6f68"/></radialGradient>
</defs>
<circle cx="863.6" cy="54.1" r="5.3" fill="url(#dg)"/>
<circle cx="885.4" cy="51.0" r="5.3" fill="url(#dg)"/>
<circle cx="897.6" cy="60.0" r="5.3" fill="url(#dy)"/>
<circle cx="872.8" cy="63.2" r="5.3" fill="url(#dg)"/>
<circle cx="860.6" cy="69.8" r="5.3" fill="url(#dg)"/>
<circle cx="888.5" cy="69.8" r="5.3" fill="url(#db)"/>
<circle cx="901.1" cy="75.7" r="5.3" fill="url(#db)"/>
<circle cx="870.0" cy="78.9" r="5.3" fill="url(#db)"/>
<circle cx="857.5" cy="82.0" r="5.3" fill="url(#dg)"/>
<circle cx="885.4" cy="82.0" r="5.3" fill="url(#db)"/>
<circle cx="863.6" cy="91.5" r="5.3" fill="url(#dy)"/>
<circle cx="875.8" cy="94.6" r="5.3" fill="url(#dy)"/>
<circle cx="894.7" cy="91.5" r="5.3" fill="url(#dg)"/>
<path d="M917.7,68.1 H967.8" stroke="#1c1c1c" stroke-width="1.9" fill="none"/><path d="M974.1,68.1 l-10.4,-3.9 l2.5,3.9 l-2.5,3.9 Z" fill="#111"/>
<circle cx="1012.0" cy="73.7" r="31.2" fill="url(#sph)"/>
<path d="M1013,44 C1030,47 1041,60 1042.5,82 C1034,88 1020,90 1013,90 C1000,90 990,87 985,83 C987,62 998,47 1013,44Z" fill="#79cdbf"/>
<path d="M1013,44 L1013,90 C1000,90 990,87 985,83 C987,62 998,47 1013,44Z" fill="#8ad6c9"/>
<path d="M1013,49.5 C1026,52 1035,63 1037,80.5 C1030,84.5 1020,86 1013,86 C1003,86 995,84 990.5,81 C992,65 1001,52.5 1013,49.5Z" fill="#d7cf78"/>
<path d="M1013,49.5 L1013,86 C1003,86 995,84 990.5,81 C992,65 1001,52.5 1013,49.5Z" fill="#e6df8a"/>
<path d="M1013,55 C1023,57.5 1030,66 1031.5,78.5 C1026,81 1019,82 1013,82 C1006,82 999.5,80.5 996,78.5 C997.5,67 1004,58 1013,55Z" fill="#3f7fd0"/>
<path d="M1013,55 L1013,72 L996,78.5 C997.5,67 1004,58 1013,55Z" fill="#4b8de0"/>
<path d="M1013,72 L1031.5,78.5 C1026,81 1019,82 1013,82 C1006,82 999.5,80.5 996,78.5Z" fill="#5a9cf0"/>
<text x="972.3" y="145.2" font-size="22.0" fill="#111" textLength="75.0" lengthAdjust="spacingAndGlyphs" >DSNPs</text>
<path d="M1051.2,68.0 H1110.7" stroke="#1c1c1c" stroke-width="1.9" fill="none"/><path d="M1117.0,68.0 l-10.4,-3.9 l2.5,3.9 l-2.5,3.9 Z" fill="#111"/>
<g>
<path d="M1211.9,79.1 L1217.8,80.3 M1205.8,93.6 L1210.8,97.0 M1194.7,104.7 L1198.0,109.7 M1180.1,110.7 L1181.3,116.5 M1164.4,110.6 L1163.2,116.5 M1149.9,104.5 L1146.5,109.5 M1138.8,93.4 L1133.8,96.7 M1132.8,78.8 L1127.0,80.0 M1132.9,63.1 L1127.0,61.9 M1139.0,48.6 L1134.0,45.2 M1150.1,37.5 L1146.8,32.5 M1164.7,31.5 L1163.5,25.7 M1180.4,31.6 L1181.6,25.7 M1194.9,37.7 L1198.3,32.7 M1206.0,48.8 L1211.0,45.5 M1212.0,63.4 L1217.8,62.2" stroke="#fbe3c8" stroke-width="0.8" fill="none"/>
<circle cx="1172.4" cy="71.1" r="36.3" fill="#fff"/>
<path d="M1195.50,71.10 L1203.70,71.10 M1195.36,73.60 L1203.52,74.48 M1194.96,76.07 L1202.97,77.83 M1194.29,78.48 L1202.06,81.09 M1193.36,80.80 L1200.81,84.24 M1192.19,83.01 L1199.22,87.24 M1190.79,85.08 L1197.32,90.04 M1189.17,86.99 L1195.12,92.62 M1187.35,88.71 L1192.66,94.96 M1185.36,90.22 L1189.97,97.01 M1183.22,91.51 L1187.06,98.75 M1180.95,92.56 L1183.99,100.18 M1178.58,93.36 L1180.77,101.26 M1176.14,93.90 L1177.46,101.99 M1173.65,94.17 L1174.09,102.35 M1171.15,94.17 L1170.71,102.35 M1168.66,93.90 L1167.34,101.99 M1166.22,93.36 L1164.03,101.26 M1163.85,92.56 L1160.81,100.18 M1161.58,91.51 L1157.74,98.75 M1159.44,90.22 L1154.83,97.01 M1157.45,88.71 L1152.14,94.96 M1155.63,86.99 L1149.68,92.62 M1154.01,85.08 L1147.48,90.04 M1152.61,83.01 L1145.58,87.24 M1151.44,80.80 L1143.99,84.24 M1150.51,78.48 L1142.74,81.09 M1149.84,76.07 L1141.83,77.83 M1149.44,73.60 L1141.28,74.48 M1149.30,71.10 L1141.10,71.10 M1149.44,68.60 L1141.28,67.72 M1149.84,66.13 L1141.83,64.37 M1150.51,63.72 L1142.74,61.11 M1151.44,61.40 L1143.99,57.96 M1152.61,59.19 L1145.58,54.96 M1154.01,57.12 L1147.48,52.16 M1155.63,55.21 L1149.68,49.58 M1157.45,53.49 L1152.14,47.24 M1159.44,51.98 L1154.83,45.19 M1161.58,50.69 L1157.74,43.45 M1163.85,49.64 L1160.81,42.02 M1166.22,48.84 L1164.03,40.94 M1168.66,48.30 L1167.34,40.21 M1171.15,48.03 L1170.71,39.85 M1173.65,48.03 L1174.09,39.85 M1176.14,48.30 L1177.46,40.21 M1178.58,48.84 L1180.77,40.94 M1180.95,49.64 L1183.99,42.02 M1183.22,50.69 L1187.06,43.45 M1185.36,51.98 L1189.97,45.19 M1187.35,53.49 L1192.66,47.24 M1189.17,55.21 L1195.12,49.58 M1190.79,57.12 L1197.32,52.16 M1192.19,59.19 L1199.22,54.96 M1193.36,61.40 L1200.81,57.96 M1194.29,63.72 L1202.06,61.11 M1194.96,66.13 L1202.97,64.37 M1195.36,68.60 L1203.52,67.72" stroke="#aab2be" stroke-width="0.6" fill="none"/>
<circle cx="1172.4" cy="71.1" r="34.70" fill="none" stroke="#fde3bd" stroke-width="8"/>
<circle cx="1172.4" cy="71.1" r="34.70" fill="none" stroke="#ee8a22" stroke-width="9" stroke-dasharray="2.481 1.278"/>
<circle cx="1172.4" cy="71.1" r="38.70" fill="none" stroke="#ee8a22" stroke-width="2.6"/>
<circle cx="1172.4" cy="71.1" r="22.80" fill="none" stroke="#364250" stroke-width="1.7" stroke-dasharray="1.3 2.913" stroke-linecap="butt"/>
<circle cx="1172.4" cy="71.1" r="19.6" fill="url(#coreg)"/>
</g>
<path d="M1221.6,68.0 H1283.0" stroke="#1c1c1c" stroke-width="1.9" fill="none"/><path d="M1289.3,68.0 l-10.4,-3.9 l2.5,3.9 l-2.5,3.9 Z" fill="#111"/>
<g>
<path d="M1408.9,85.9 L1414.8,87.1 M1402.8,100.5 L1407.8,103.8 M1391.5,111.6 L1394.8,116.6 M1376.9,117.6 L1378.0,123.5 M1361.0,117.6 L1359.8,123.5 M1346.4,111.5 L1343.1,116.5 M1335.3,100.2 L1330.3,103.5 M1329.3,85.6 L1323.4,86.7 M1329.3,69.7 L1323.4,68.5 M1335.4,55.1 L1330.4,51.8 M1346.7,44.0 L1343.4,39.0 M1361.3,38.0 L1360.2,32.1 M1377.2,38.0 L1378.4,32.1 M1391.8,44.1 L1395.1,39.1 M1402.9,55.4 L1407.9,52.1 M1408.9,70.0 L1414.8,68.9" stroke="#fbe3c8" stroke-width="0.8" fill="none"/>
<circle cx="1369.1" cy="77.8" r="36.6" fill="#fff"/>
<path d="M1392.90,77.80 L1400.70,77.80 M1392.76,80.37 L1400.51,81.22 M1392.34,82.92 L1399.96,84.59 M1391.65,85.40 L1399.05,87.89 M1390.70,87.79 L1397.78,91.07 M1389.49,90.07 L1396.18,94.09 M1388.05,92.20 L1394.26,96.92 M1386.38,94.17 L1392.04,99.53 M1384.51,95.94 L1389.56,101.88 M1382.46,97.50 L1386.83,103.95 M1380.25,98.83 L1383.90,105.72 M1377.91,99.91 L1380.80,107.16 M1375.47,100.73 L1377.55,108.25 M1372.95,101.29 L1374.21,108.98 M1370.39,101.57 L1370.81,109.35 M1367.81,101.57 L1367.39,109.35 M1365.25,101.29 L1363.99,108.98 M1362.73,100.73 L1360.65,108.25 M1360.29,99.91 L1357.40,107.16 M1357.95,98.83 L1354.30,105.72 M1355.74,97.50 L1351.37,103.95 M1353.69,95.94 L1348.64,101.88 M1351.82,94.17 L1346.16,99.53 M1350.15,92.20 L1343.94,96.92 M1348.71,90.07 L1342.02,94.09 M1347.50,87.79 L1340.42,91.07 M1346.55,85.40 L1339.15,87.89 M1345.86,82.92 L1338.24,84.59 M1345.44,80.37 L1337.69,81.22 M1345.30,77.80 L1337.50,77.80 M1345.44,75.23 L1337.69,74.38 M1345.86,72.68 L1338.24,71.01 M1346.55,70.20 L1339.15,67.71 M1347.50,67.81 L1340.42,64.53 M1348.71,65.53 L1342.02,61.51 M1350.15,63.40 L1343.94,58.68 M1351.82,61.43 L1346.16,56.07 M1353.69,59.66 L1348.64,53.72 M1355.74,58.10 L1351.37,51.65 M1357.95,56.77 L1354.30,49.88 M1360.29,55.69 L1357.40,48.44 M1362.73,54.87 L1360.65,47.35 M1365.25,54.31 L1363.99,46.62 M1367.81,54.03 L1367.39,46.25 M1370.39,54.03 L1370.81,46.25 M1372.95,54.31 L1374.21,46.62 M1375.47,54.87 L1377.55,47.35 M1377.91,55.69 L1380.80,48.44 M1380.25,56.77 L1383.90,49.88 M1382.46,58.10 L1386.83,51.65 M1384.51,59.66 L1389.56,53.72 M1386.38,61.43 L1392.04,56.07 M1388.05,63.40 L1394.26,58.68 M1389.49,65.53 L1396.18,61.51 M1390.70,67.81 L1397.78,64.53 M1391.65,70.20 L1399.05,67.71 M1392.34,72.68 L1399.96,71.01 M1392.76,75.23 L1400.51,74.38" stroke="#aab2be" stroke-width="0.6" fill="none"/>
<circle cx="1369.1" cy="77.8" r="35.00" fill="none" stroke="#fde3bd" stroke-width="8"/>
<circle cx="1369.1" cy="77.8" r="35.00" fill="none" stroke="#ee8a22" stroke-width="9" stroke-dasharray="2.502 1.289"/>
<circle cx="1369.1" cy="77.8" r="39.00" fill="none" stroke="#ee8a22" stroke-width="2.6"/>
<circle cx="1369.1" cy="77.8" r="23.50" fill="none" stroke="#364250" stroke-width="1.7" stroke-dasharray="1.3 3.043" stroke-linecap="butt"/>
<circle cx="1369.1" cy="77.8" r="20.3" fill="url(#coreg)"/>
</g>
<g transform="translate(1370.3 33.6) rotate(-87.0)"><path d="M0,-3 L10,-3 L10,3 L0,3Z" fill="#bcc63f"/><path d="M0,-0.3 L10,-0.3 L10,0.4 L0,0.4Z" fill="#8e9a28"/><path d="M8.5,-3 L15.6,-8.3 L17.6,-5.4 L10.5,0Z" fill="#c2ca48"/><path d="M8.5,3 L15.6,8.3 L17.6,5.4 L10.5,0Z" fill="#b4be3a"/><path d="M14.6,-7.6 L18.2,-10.3 L20.2,-7.3 L16.6,-4.7Z" fill="#ae5c9e"/><path d="M14.6,7.6 L18.2,10.3 L20.2,7.3 L16.6,4.7Z" fill="#ae5c9e"/></g>
<g transform="translate(1329.6 57.3) rotate(-147.0)"><path d="M0,-3 L10,-3 L10,3 L0,3Z" fill="#bcc63f"/><path d="M0,-0.3 L10,-0.3 L10,0.4 L0,0.4Z" fill="#8e9a28"/><path d="M8.5,-3 L15.6,-8.3 L17.6,-5.4 L10.5,0Z" fill="#c2ca48"/><path d="M8.5,3 L15.6,8.3 L17.6,5.4 L10.5,0Z" fill="#b4be3a"/><path d="M14.6,-7.6 L18.2,-10.3 L20.2,-7.3 L16.6,-4.7Z" fill="#ae5c9e"/><path d="M14.6,7.6 L18.2,10.3 L20.2,7.3 L16.6,4.7Z" fill="#ae5c9e"/></g>
<g transform="translate(1409.6 58.3) rotate(-22.0)"><path d="M0,-3 L10,-3 L10,3 L0,3Z" fill="#bcc63f"/><path d="M0,-0.3 L10,-0.3 L10,0.4 L0,0.4Z" fill="#8e9a28"/><path d="M8.5,-3 L15.6,-8.3 L17.6,-5.4 L10.5,0Z" fill="#c2ca48"/><path d="M8.5,3 L15.6,8.3 L17.6,5.4 L10.5,0Z" fill="#b4be3a"/><path d="M14.6,-7.6 L18.2,-10.3 L20.2,-7.3 L16.6,-4.7Z" fill="#ae5c9e"/><path d="M14.6,7.6 L18.2,10.3 L20.2,7.3 L16.6,4.7Z" fill="#ae5c9e"/></g>
<g transform="translate(1326.4 91.6) rotate(163.0)"><path d="M0,-3 L10,-3 L10,3 L0,3Z" fill="#bcc63f"/><path d="M0,-0.3 L10,-0.3 L10,0.4 L0,0.4Z" fill="#8e9a28"/><path d="M8.5,-3 L15.6,-8.3 L17.6,-5.4 L10.5,0Z" fill="#c2ca48"/><path d="M8.5,3 L15.6,8.3 L17.6,5.4 L10.5,0Z" fill="#b4be3a"/><path d="M14.6,-7.6 L18.2,-10.3 L20.2,-7.3 L16.6,-4.7Z" fill="#ae5c9e"/><path d="M14.6,7.6 L18.2,10.3 L20.2,7.3 L16.6,4.7Z" fill="#ae5c9e"/></g>
<g transform="translate(1404.6 102.3) rotate(40.0)"><path d="M0,-3 L10,-3 L10,3 L0,3Z" fill="#bcc63f"/><path d="M0,-0.3 L10,-0.3 L10,0.4 L0,0.4Z" fill="#8e9a28"/><path d="M8.5,-3 L15.6,-8.3 L17.6,-5.4 L10.5,0Z" fill="#c2ca48"/><path d="M8.5,3 L15.6,8.3 L17.6,5.4 L10.5,0Z" fill="#b4be3a"/><path d="M14.6,-7.6 L18.2,-10.3 L20.2,-7.3 L16.6,-4.7Z" fill="#ae5c9e"/><path d="M14.6,7.6 L18.2,10.3 L20.2,7.3 L16.6,4.7Z" fill="#ae5c9e"/></g>
<text x="1126.0" y="145.6" font-size="22.0" fill="#111" textLength="120.0" lengthAdjust="spacingAndGlyphs" >DSPE-PEG</text>
<text x="1116.6" y="166.0" font-size="22.0" fill="#111" textLength="143.5" lengthAdjust="spacingAndGlyphs" >encapsulation</text>
<text x="1316.0" y="145.6" font-size="22.0" fill="#111" textLength="90.5" lengthAdjust="spacingAndGlyphs" >Antibody</text>
<text x="1279.4" y="169.0" font-size="22.0" fill="#111" textLength="166.0" lengthAdjust="spacingAndGlyphs" >functionalization</text>
<!-- 50_panel2.py -->
<defs>
<linearGradient id="fo" x1="0" y1="0" x2="0" y2="1"><stop offset="0" stop-color="#ff7a05"/><stop offset="0.2" stop-color="#ff9a14"/><stop offset="0.5" stop-color="#ffd23a"/><stop offset="0.8" stop-color="#ff9a14"/><stop offset="1" stop-color="#ff7a05"/></linearGradient>
<linearGradient id="fb" x1="0" y1="0" x2="0" y2="1"><stop offset="0" stop-color="#0505ff"/><stop offset="0.14" stop-color="#0a14fa"/><stop offset="0.3" stop-color="#1f8fe8"/><stop offset="0.5" stop-color="#2cb0e6"/><stop offset="0.7" stop-color="#1f8fe8"/><stop offset="0.86" stop-color="#0a14fa"/><stop offset="1" stop-color="#0505ff"/></linearGradient>
<linearGradient id="lens" gradientUnits="userSpaceOnUse" x1="994.5" y1="285.6" x2="1048.4" y2="236.7"><stop offset="0" stop-color="#6e6e6e"/><stop offset="0.3" stop-color="#a8a8a8"/><stop offset="0.5" stop-color="#ffffff"/><stop offset="0.7" stop-color="#a8a8a8"/><stop offset="1" stop-color="#6e6e6e"/></linearGradient>
<linearGradient id="lasg" x1="0" y1="0" x2="0" y2="1"><stop offset="0" stop-color="#5c5a5a"/><stop offset="0.35" stop-color="#4a4646"/><stop offset="0.7" stop-color="#858383"/><stop offset="1" stop-color="#a6a6a6"/></linearGradient>
<linearGradient id="camg" x1="0" y1="0" x2="0" y2="1"><stop offset="0" stop-color="#2e2829"/><stop offset="0.5" stop-color="#453f40"/><stop offset="1" stop-color="#5a5556"/></linearGradient>
<linearGradient id="camlens" x1="0" y1="0" x2="0" y2="1"><stop offset="0" stop-color="#2a2a2a"/><stop offset="0.4" stop-color="#7a7676"/><stop offset="1" stop-color="#2a2a2a"/></linearGradient>
</defs>
<rect x="862.6" y="227.6" width="9.1" height="74.9" fill="url(#fo)"/>
<rect x="887.2" y="227.6" width="9" height="74.9" fill="url(#fb)"/>
<text x="848.6" y="340.1" font-size="22.0" fill="#111" textLength="63.5" lengthAdjust="spacingAndGlyphs" >Filters</text>
<rect x="989.8" y="231" width="63.7" height="60.2" fill="#3c3c3c"/>
<rect x="993" y="234.2" width="57.3" height="53.8" fill="#4f4f4f"/>
<path d="M994.8,285.8 C1007,270 1030,248 1048.2,236.9 C1037,253 1013,275 994.8,285.8Z" fill="url(#lens)"/>
<text x="946.0" y="340.1" font-size="22.0" fill="#111" textLength="152.0" lengthAdjust="spacingAndGlyphs" >Dichroic mirror</text>
<rect x="1112.8" y="246.7" width="56.1" height="29.3" fill="url(#lasg)" stroke="#2a2424" stroke-width="1.4"/>
<path d="M1122.1,247 V275.7" stroke="#2a2424" stroke-width="1.2"/>
<path d="M1169.1,262.0 C1169.5,261.5 1170.4,260.0 1171.5,259.3 C1172.5,258.6 1174.0,257.5 1175.2,257.8 C1176.5,258.1 1177.9,260.0 1179.0,261.0 C1180.1,262.0 1180.9,263.7 1181.8,263.8 C1182.7,264.0 1183.6,263.0 1184.1,262.0 C1184.7,260.9 1184.6,258.6 1185.1,257.5 C1185.6,256.3 1186.2,255.1 1187.0,255.0 C1187.8,254.9 1188.6,255.9 1189.8,256.8 C1191.0,257.7 1192.1,259.6 1194.0,260.6 C1196.0,261.5 1198.7,262.2 1201.5,262.4 C1204.4,262.7 1208.1,262.4 1210.9,262.0 C1213.8,261.6 1216.4,260.8 1218.5,260.1 C1220.5,259.3 1222.4,257.9 1223.2,257.5" fill="none" stroke="#2a2424" stroke-width="1.3" stroke-linecap="round"/>
<text x="1123.0" y="339.9" font-size="22.0" fill="#111" textLength="59.0" lengthAdjust="spacingAndGlyphs" >Laser</text>
<path d="M1250,249.3 C1250,247.8 1252,247.6 1253,249 C1254.5,251.2 1256,252 1258,252 H1267 V268.3 H1258 C1256,268.3 1254.5,269.2 1253,272 C1252,273.6 1250,273.2 1250,271.5Z" fill="url(#camlens)"/>
<path d="M1268.3,235.6 H1321.6 L1330.4,240.5 V281.5 L1323.4,286.3 H1268.3 C1267,286.3 1266.3,285.5 1266.3,284.3 V237.6 C1266.3,236.4 1267,235.6 1268.3,235.6Z" fill="url(#camg)"/>
<path d="M1321.6,235.6 L1330.4,240.5 V281.5 L1323.4,286.3 Z" fill="#0e0a0b"/>
<text x="1267.6" y="255.5" font-size="17.2" fill="#e6dede" textLength="58.0" lengthAdjust="spacingAndGlyphs" >InGaAs</text>
<text x="1267.2" y="276.0" font-size="17.2" fill="#e6dede" textLength="62.5" lengthAdjust="spacingAndGlyphs" >Camera</text>
<text x="1254.6" y="339.9" font-size="22.0" fill="#111" textLength="82.5" lengthAdjust="spacingAndGlyphs" >Camera</text>
<g transform="translate(1393.60 223.30) scale(1.0000 1.0000)">
<defs><linearGradient id="oba" x1="0" y1="0" x2="1" y2="0"><stop offset="0" stop-color="#8f8f8f"/><stop offset="0.18" stop-color="#c9c9c9"/><stop offset="0.45" stop-color="#f4f4f4"/><stop offset="0.7" stop-color="#c4c4c4"/><stop offset="1" stop-color="#8a8a8a"/></linearGradient>
<linearGradient id="oga" x1="0" y1="0" x2="0" y2="1"><stop offset="0" stop-color="#1fa51f"/><stop offset="0.5" stop-color="#189418"/><stop offset="0.55" stop-color="#0c6a0c"/><stop offset="1" stop-color="#0f7a0f"/></linearGradient></defs>
<rect x="7" y="0" width="42.5" height="5" rx="1.5" fill="#dcdcdc"/>
<rect x="1" y="4.5" width="54.8" height="9.2" rx="2" fill="url(#oba)"/>
<rect x="0.3" y="15" width="56.7" height="15.5" rx="3.2" fill="#f6f6f6" stroke="#8c8c8c" stroke-width="0.7"/>
<rect x="2.6" y="13.4" width="52" height="19" fill="#b4b4b4"/>
<rect x="4.40" y="13.8" width="2.5" height="18.2" fill="#f0f0f0"/><rect x="3.50" y="13.8" width="0.7" height="18.2" fill="#8e8e8e"/><rect x="9.06" y="13.8" width="2.5" height="18.2" fill="#f0f0f0"/><rect x="8.16" y="13.8" width="0.7" height="18.2" fill="#8e8e8e"/><rect x="13.72" y="13.8" width="2.5" height="18.2" fill="#f0f0f0"/><rect x="12.82" y="13.8" width="0.7" height="18.2" fill="#8e8e8e"/><rect x="18.38" y="13.8" width="2.5" height="18.2" fill="#f0f0f0"/><rect x="17.48" y="13.8" width="0.7" height="18.2" fill="#8e8e8e"/><rect x="23.04" y="13.8" width="2.5" height="18.2" fill="#f0f0f0"/><rect x="22.14" y="13.8" width="0.7" height="18.2" fill="#8e8e8e"/><rect x="27.70" y="13.8" width="2.5" height="18.2" fill="#f0f0f0"/><rect x="26.80" y="13.8" width="0.7" height="18.2" fill="#8e8e8e"/><rect x="32.36" y="13.8" width="2.5" height="18.2" fill="#f0f0f0"/><rect x="31.46" y="13.8" width="0.7" height="18.2" fill="#8e8e8e"/><rect x="37.02" y="13.8" width="2.5" height="18.2" fill="#f0f0f0"/><rect x="36.12" y="13.8" width="0.7" height="18.2" fill="#8e8e8e"/><rect x="41.68" y="13.8" width="2.5" height="18.2" fill="#f0f0f0"/><rect x="40.78" y="13.8" width="0.7" height="18.2" fill="#8e8e8e"/><rect x="46.34" y="13.8" width="2.5" height="18.2" fill="#f0f0f0"/><rect x="45.44" y="13.8" width="0.7" height="18.2" fill="#8e8e8e"/><rect x="51.00" y="13.8" width="2.5" height="18.2" fill="#f0f0f0"/><rect x="50.10" y="13.8" width="0.7" height="18.2" fill="#8e8e8e"/>
<rect x="2.6" y="31.6" width="52" height="1" fill="#7a7a7a"/>
<rect x="2.8" y="32.2" width="51.4" height="19.6" fill="url(#oba)"/>
<rect x="2.8" y="51.3" width="51.4" height="8.7" fill="url(#oga)"/>
<path d="M2.8,60 H54.2 V62 L43,70.3 H14.2 L2.8,62Z" fill="url(#oba)"/>
<path d="M15.5,69.6 H41.5 L40,71.4 H17Z" fill="#3a3a3a"/>
<path d="M18,71.2 H39 C37,75 33,76.5 28.5,76.5 C24,76.5 20,75 18,71.2Z" fill="url(#oba)"/>
</g>
<text x="1366.8" y="339.9" font-size="22.0" fill="#111" textLength="97.5" lengthAdjust="spacingAndGlyphs" >Objective</text>
<!-- 60_panel3.py -->
<path d="M885.2,404.1 C897,409 918,417.5 943,426.9 L1010,470 L1167,500 L1167.5,514.5 C1162.2,515.4 1148.4,518.0 1136.0,519.7 C1123.6,521.5 1105.7,523.8 1093.0,525.0 C1080.3,526.2 1070.7,526.8 1060.0,526.8 C1049.3,526.8 1037.8,525.6 1029.0,525.0 C1020.2,524.4 1014.7,524.1 1007.5,523.4 C1000.3,522.7 993.2,521.9 986.0,520.7 C978.8,519.5 971.7,518.1 964.5,516.4 C957.3,514.7 950.2,512.7 943.0,510.5 C935.8,508.3 928.7,505.7 921.5,503.0 C914.3,500.3 907.2,497.9 900.0,494.4 C892.8,490.8 881.8,483.8 878.1,481.7 C878.3,460 880,432 885.2,404.1Z" fill="#cb5743" stroke="#8e3326" stroke-width="0.9"/>
<path d="M880,478 C893,482 905,478 911,466" fill="none" stroke="#a23a2c" stroke-width="0.8"/>
<clipPath id="vop"><path d="M921.0,490.1 C920.0,488.1 916.0,482.3 915.2,478.0 C914.4,473.7 915.5,468.9 916.1,464.5 C916.7,460.1 917.5,455.7 918.8,451.6 C920.0,447.5 921.5,443.2 923.6,439.8 C925.7,436.4 928.5,433.3 931.2,431.2 C933.9,429.1 937.1,427.9 939.8,427.4 C942.5,426.9 945.1,427.4 947.3,428.2 C949.4,429.0 951.3,430.8 952.7,432.2 C954.1,433.6 953.9,435.2 955.9,436.5 C957.9,437.8 959.5,438.2 964.5,439.8 C969.5,441.4 978.8,444.4 986.0,446.2 C993.2,448.0 1000.3,449.3 1007.5,450.5 C1014.7,451.7 1020.2,452.5 1029.0,453.2 C1037.8,453.9 1049.3,454.3 1060.0,454.8 C1070.7,455.3 1080.3,456.3 1093.0,456.1 C1105.7,455.9 1123.5,454.5 1136.0,453.4 C1148.5,452.3 1159.8,450.8 1168.2,449.7 C1176.6,448.6 1183.5,447.4 1186.5,447.0 C1188.3,449.4 1194.7,456.4 1197.2,461.5 C1199.7,466.6 1201.1,472.2 1201.5,477.6 C1201.9,483.0 1200.8,488.9 1199.4,493.7 C1198.0,498.5 1196.0,503.4 1192.9,506.6 C1189.9,509.8 1184.7,512.2 1181.1,513.1 C1177.5,514.0 1173.7,512.9 1171.4,512.0 C1169.1,511.1 1167.8,508.4 1167.1,507.7 C1161.9,508.2 1148.3,509.8 1136.0,510.9 C1123.7,512.0 1107.3,513.8 1093.0,514.1 C1078.7,514.4 1060.7,513.0 1050.0,512.5 C1039.3,512.0 1036.1,511.9 1029.0,511.4 C1021.9,510.9 1014.7,510.2 1007.5,509.4 C1000.3,508.6 993.2,507.8 986.0,506.7 C978.8,505.6 971.7,504.5 964.5,503.0 C957.3,501.5 950.2,499.8 943.0,497.6 C935.8,495.5 924.7,491.4 921.0,490.1Z"/></clipPath>
<path d="M921.0,490.1 C920.0,488.1 916.0,482.3 915.2,478.0 C914.4,473.7 915.5,468.9 916.1,464.5 C916.7,460.1 917.5,455.7 918.8,451.6 C920.0,447.5 921.5,443.2 923.6,439.8 C925.7,436.4 928.5,433.3 931.2,431.2 C933.9,429.1 937.1,427.9 939.8,427.4 C942.5,426.9 945.1,427.4 947.3,428.2 C949.4,429.0 951.3,430.8 952.7,432.2 C954.1,433.6 953.9,435.2 955.9,436.5 C957.9,437.8 959.5,438.2 964.5,439.8 C969.5,441.4 978.8,444.4 986.0,446.2 C993.2,448.0 1000.3,449.3 1007.5,450.5 C1014.7,451.7 1020.2,452.5 1029.0,453.2 C1037.8,453.9 1049.3,454.3 1060.0,454.8 C1070.7,455.3 1080.3,456.3 1093.0,456.1 C1105.7,455.9 1123.5,454.5 1136.0,453.4 C1148.5,452.3 1159.8,450.8 1168.2,449.7 C1176.6,448.6 1183.5,447.4 1186.5,447.0 C1188.3,449.4 1194.7,456.4 1197.2,461.5 C1199.7,466.6 1201.1,472.2 1201.5,477.6 C1201.9,483.0 1200.8,488.9 1199.4,493.7 C1198.0,498.5 1196.0,503.4 1192.9,506.6 C1189.9,509.8 1184.7,512.2 1181.1,513.1 C1177.5,514.0 1173.7,512.9 1171.4,512.0 C1169.1,511.1 1167.8,508.4 1167.1,507.7 C1161.9,508.2 1148.3,509.8 1136.0,510.9 C1123.7,512.0 1107.3,513.8 1093.0,514.1 C1078.7,514.4 1060.7,513.0 1050.0,512.5 C1039.3,512.0 1036.1,511.9 1029.0,511.4 C1021.9,510.9 1014.7,510.2 1007.5,509.4 C1000.3,508.6 993.2,507.8 986.0,506.7 C978.8,505.6 971.7,504.5 964.5,503.0 C957.3,501.5 950.2,499.8 943.0,497.6 C935.8,495.5 924.7,491.4 921.0,490.1Z" fill="#ffffff"/>
<g clip-path="url(#vop)">
<path d="M926.0,487.0 C924.7,485.0 923.2,474.4 922.8,470.0 C922.4,465.6 922.4,457.6 923.1,453.7 C923.8,449.8 926.1,443.2 927.9,440.8 C929.7,438.4 934.2,436.0 936.5,435.5 C938.8,435.0 943.2,436.1 945.1,437.1 C947.0,438.1 949.1,441.4 950.5,443.0 C951.9,444.6 954.0,448.0 955.9,449.4 C957.8,450.8 960.5,452.3 964.5,453.2 C968.5,454.1 981.1,455.7 986.0,455.9 C990.9,456.1 996.7,453.9 1001.0,454.5 C1005.3,455.1 1013.0,458.8 1018.2,460.2 C1023.4,461.6 1034.1,464.3 1039.7,465.0 C1045.3,465.7 1054.3,465.6 1060.0,465.5 C1065.7,465.4 1076.7,464.7 1082.2,464.2 C1087.7,463.7 1098.4,462.6 1101.6,462.0 C1104.8,461.4 1102.8,460.0 1105.9,459.9 C1109.0,459.8 1119.8,460.6 1125.2,461.0 C1130.6,461.4 1141.0,462.5 1146.7,462.6 C1152.4,462.7 1163.5,461.9 1168.2,461.5 C1172.9,461.1 1179.3,458.9 1182.2,459.3 C1185.1,459.7 1188.0,462.5 1189.7,464.7 C1191.4,466.9 1194.5,472.3 1195.1,475.5 C1195.7,478.7 1194.9,485.1 1194.0,488.4 C1193.1,491.7 1190.3,498.2 1188.6,500.2 C1186.9,502.2 1183.1,503.4 1181.1,503.4 C1179.1,503.4 1175.3,501.0 1173.6,500.2 C1171.9,499.4 1170.3,497.6 1168.2,497.5 C1166.1,497.4 1160.4,498.5 1157.5,499.1 C1154.6,499.7 1149.0,501.1 1146.7,501.8 C1144.4,502.5 1143.2,504.0 1140.3,504.5 C1137.4,505.0 1130.1,505.4 1125.2,505.5 C1120.3,505.6 1109.4,505.3 1103.7,505.5 C1098.0,505.7 1088.0,506.9 1082.2,507.2 C1076.4,507.5 1067.1,508.1 1060.0,507.8 C1052.9,507.5 1036.0,506.1 1029.0,504.6 C1022.0,503.1 1014.7,497.7 1007.5,496.5 C1000.3,495.3 980.4,495.4 975.2,495.5 C970.0,495.6 971.7,497.9 968.8,497.6 C965.9,497.3 958.6,494.9 953.7,493.3 C948.8,491.7 935.9,486.1 932.2,485.3 C928.5,484.5 927.3,489.0 926.0,487.0Z" fill="#fbd2c2" stroke="#7d7d7d" stroke-width="0.7"/>
<path d="M1001,454.5 L1003,449 M1105.9,459.9 L1104,455.5 M968.8,497.6 L971,504.5 M1050,508.8 L1051,513 M1140.3,504.5 L1142,510.5 M1182.2,459.3 L1184,450" stroke="#7d7d7d" stroke-width="0.6" fill="none"/>
</g>
<path d="M921.0,490.1 C920.0,488.1 916.0,482.3 915.2,478.0 C914.4,473.7 915.5,468.9 916.1,464.5 C916.7,460.1 917.5,455.7 918.8,451.6 C920.0,447.5 921.5,443.2 923.6,439.8 C925.7,436.4 928.5,433.3 931.2,431.2 C933.9,429.1 937.1,427.9 939.8,427.4 C942.5,426.9 945.1,427.4 947.3,428.2 C949.4,429.0 951.3,430.8 952.7,432.2 C954.1,433.6 953.9,435.2 955.9,436.5 C957.9,437.8 959.5,438.2 964.5,439.8 C969.5,441.4 978.8,444.4 986.0,446.2 C993.2,448.0 1000.3,449.3 1007.5,450.5 C1014.7,451.7 1020.2,452.5 1029.0,453.2 C1037.8,453.9 1049.3,454.3 1060.0,454.8 C1070.7,455.3 1080.3,456.3 1093.0,456.1 C1105.7,455.9 1123.5,454.5 1136.0,453.4 C1148.5,452.3 1159.8,450.8 1168.2,449.7 C1176.6,448.6 1183.5,447.4 1186.5,447.0 C1188.3,449.4 1194.7,456.4 1197.2,461.5 C1199.7,466.6 1201.1,472.2 1201.5,477.6 C1201.9,483.0 1200.8,488.9 1199.4,493.7 C1198.0,498.5 1196.0,503.4 1192.9,506.6 C1189.9,509.8 1184.7,512.2 1181.1,513.1 C1177.5,514.0 1173.7,512.9 1171.4,512.0 C1169.1,511.1 1167.8,508.4 1167.1,507.7 C1161.9,508.2 1148.3,509.8 1136.0,510.9 C1123.7,512.0 1107.3,513.8 1093.0,514.1 C1078.7,514.4 1060.7,513.0 1050.0,512.5 C1039.3,512.0 1036.1,511.9 1029.0,511.4 C1021.9,510.9 1014.7,510.2 1007.5,509.4 C1000.3,508.6 993.2,507.8 986.0,506.7 C978.8,505.6 971.7,504.5 964.5,503.0 C957.3,501.5 950.2,499.8 943.0,497.6 C935.8,495.5 924.7,491.4 921.0,490.1Z" fill="none" stroke="#d31f2b" stroke-width="3.6" stroke-linejoin="round"/>
<path d="M921.0,490.1 C920.0,488.1 916.0,482.3 915.2,478.0 C914.4,473.7 915.5,468.9 916.1,464.5 C916.7,460.1 917.5,455.7 918.8,451.6 C920.0,447.5 921.5,443.2 923.6,439.8 C925.7,436.4 928.5,433.3 931.2,431.2 C933.9,429.1 937.1,427.9 939.8,427.4 C942.5,426.9 945.1,427.4 947.3,428.2 C949.4,429.0 951.8,431.5 952.7,432.2" fill="none" stroke="#d31f2b" stroke-width="4.6" stroke-linecap="round"/>
<path d="M921.0,490.1 C920.0,488.1 916.0,482.3 915.2,478.0 C914.4,473.7 915.5,468.9 916.1,464.5 C916.7,460.1 917.5,455.7 918.8,451.6 C920.0,447.5 921.5,443.2 923.6,439.8 C925.7,436.4 929.9,432.6 931.2,431.2" fill="none" stroke="#9c1722" stroke-width="0.7" opacity="0.8" transform="translate(1.9 0.4)"/>
<path d="M1186.5,447.0 C1188.3,449.4 1194.7,456.4 1197.2,461.5 C1199.7,466.6 1201.1,472.2 1201.5,477.6 C1201.9,483.0 1200.8,488.9 1199.4,493.7 C1198.0,498.5 1196.0,503.4 1192.9,506.6 C1189.9,509.8 1184.7,512.2 1181.1,513.1 C1177.5,514.0 1173.7,512.9 1171.4,512.0 C1169.1,511.1 1167.8,508.4 1167.1,507.7" fill="none" stroke="#8b1520" stroke-width="3.8" stroke-linecap="round" stroke-linejoin="round"/>
<ellipse cx="973.6" cy="449.7" rx="8.2" ry="3.0" fill="#b486a8" stroke="#6e4763" stroke-width="0.6" transform="rotate(8 973.6 449.7)"/>
<ellipse cx="1054.0" cy="460.6" rx="8.6" ry="3.0" fill="#b486a8" stroke="#6e4763" stroke-width="0.6" transform="rotate(3 1054.0 460.6)"/>
<ellipse cx="997.3" cy="500.6" rx="8.6" ry="3.0" fill="#b486a8" stroke="#6e4763" stroke-width="0.6" transform="rotate(8 997.3 500.6)"/>
<ellipse cx="1102.0" cy="508.6" rx="9.0" ry="2.6" fill="#b486a8" stroke="#6e4763" stroke-width="0.6" transform="rotate(-5 1102.0 508.6)"/>
<ellipse cx="1163.5" cy="456.8" rx="6.4" ry="2.4" fill="#b486a8" stroke="#6e4763" stroke-width="0.6" transform="rotate(-5 1163.5 456.8)"/>
<ellipse cx="925.5" cy="479.7" rx="2.6" ry="5" fill="#6a3e62" transform="rotate(-25 925.5 479.7)"/>
<rect x="1117.7" y="460" width="62.3" height="44" fill="none" stroke="#9c9c9c" stroke-width="0.6" stroke-dasharray="3.5 2.5"/>
<rect x="976.0" y="463.7" width="6.4" height="3.8" rx="1.2" fill="#d4921e" stroke="#9a6a14" stroke-width="0.4" transform="rotate(-60.0 979.2 465.6)"/>
<rect x="982.4" y="490.1" width="6.4" height="3.8" rx="1.2" fill="#d4921e" stroke="#9a6a14" stroke-width="0.4" transform="rotate(35.0 985.6 492.0)"/>
<rect x="1086.6" y="467.3" width="6.4" height="3.8" rx="1.2" fill="#d4921e" stroke="#9a6a14" stroke-width="0.4" transform="rotate(-70.0 1089.8 469.2)"/>
<rect x="1090.8" y="485.4" width="6.4" height="3.8" rx="1.2" fill="#d4921e" stroke="#9a6a14" stroke-width="0.4" transform="rotate(45.0 1094.0 487.3)"/>
<rect x="1130.1" y="480.5" width="6.4" height="3.8" rx="1.2" fill="#d4921e" stroke="#9a6a14" stroke-width="0.4" transform="rotate(-40.0 1133.3 482.4)"/>
<rect x="1157.5" y="481.1" width="6.4" height="3.8" rx="1.2" fill="#d4921e" stroke="#9a6a14" stroke-width="0.4" transform="rotate(35.0 1160.7 483.0)"/>
<path d="M993.0,464.3 L995.5,465.1 M990.4,467.4 L991.6,469.7 M986.5,467.8 L985.7,470.3 M983.4,465.2 L981.1,466.4 M983.0,461.3 L980.5,460.5 M985.6,458.2 L984.4,455.9 M989.5,457.8 L990.3,455.3 M992.6,460.4 L994.9,459.2" stroke="#8f937c" stroke-width="0.8" fill="none"/><circle cx="988.0" cy="462.8" r="5.2" fill="#e39c44"/><circle cx="988.0" cy="462.8" r="3.1" fill="#c4cdc9"/><circle cx="988.0" cy="462.8" r="2.3" fill="#3f8f8c"/><circle cx="988.0" cy="462.8" r="0.7" fill="#bfe0dc"/>
<path d="M1016.5,480.4 L1019.0,481.2 M1013.9,483.5 L1015.1,485.8 M1010.0,483.9 L1009.2,486.4 M1006.9,481.3 L1004.6,482.5 M1006.5,477.4 L1004.0,476.6 M1009.1,474.3 L1007.9,472.0 M1013.0,473.9 L1013.8,471.4 M1016.1,476.5 L1018.4,475.3" stroke="#8f937c" stroke-width="0.8" fill="none"/><circle cx="1011.5" cy="478.9" r="5.2" fill="#e39c44"/><circle cx="1011.5" cy="478.9" r="3.1" fill="#c4cdc9"/><circle cx="1011.5" cy="478.9" r="2.3" fill="#3f8f8c"/><circle cx="1011.5" cy="478.9" r="0.7" fill="#bfe0dc"/>
<path d="M1060.9,497.4 L1063.4,498.2 M1058.3,500.5 L1059.5,502.8 M1054.4,500.9 L1053.6,503.4 M1051.3,498.3 L1049.0,499.5 M1050.9,494.4 L1048.4,493.6 M1053.5,491.3 L1052.3,489.0 M1057.4,490.9 L1058.2,488.4 M1060.5,493.5 L1062.8,492.3" stroke="#8f937c" stroke-width="0.8" fill="none"/><circle cx="1055.9" cy="495.9" r="5.2" fill="#e39c44"/><circle cx="1055.9" cy="495.9" r="3.1" fill="#c4cdc9"/><circle cx="1055.9" cy="495.9" r="2.3" fill="#3f8f8c"/><circle cx="1055.9" cy="495.9" r="0.7" fill="#bfe0dc"/>
<path d="M1099.1,499.5 L1101.6,500.3 M1096.5,502.6 L1097.7,504.9 M1092.6,503.0 L1091.8,505.5 M1089.5,500.4 L1087.2,501.6 M1089.1,496.5 L1086.6,495.7 M1091.7,493.4 L1090.5,491.1 M1095.6,493.0 L1096.4,490.5 M1098.7,495.6 L1101.0,494.4" stroke="#8f937c" stroke-width="0.8" fill="none"/><circle cx="1094.1" cy="498.0" r="5.2" fill="#e39c44"/><circle cx="1094.1" cy="498.0" r="3.1" fill="#c4cdc9"/><circle cx="1094.1" cy="498.0" r="2.3" fill="#3f8f8c"/><circle cx="1094.1" cy="498.0" r="0.7" fill="#bfe0dc"/>
<path d="M1135.1,493.6 L1137.6,494.4 M1132.5,496.7 L1133.7,499.0 M1128.6,497.1 L1127.8,499.6 M1125.5,494.5 L1123.2,495.7 M1125.1,490.6 L1122.6,489.8 M1127.7,487.5 L1126.5,485.2 M1131.6,487.1 L1132.4,484.6 M1134.7,489.7 L1137.0,488.5" stroke="#8f937c" stroke-width="0.8" fill="none"/><circle cx="1130.1" cy="492.1" r="5.2" fill="#e39c44"/><circle cx="1130.1" cy="492.1" r="3.1" fill="#c4cdc9"/><circle cx="1130.1" cy="492.1" r="2.3" fill="#3f8f8c"/><circle cx="1130.1" cy="492.1" r="0.7" fill="#bfe0dc"/>
<path d="M1174.3,491.1 L1176.8,491.9 M1171.7,494.2 L1172.9,496.5 M1167.8,494.6 L1167.0,497.1 M1164.7,492.0 L1162.4,493.2 M1164.3,488.1 L1161.8,487.3 M1166.9,485.0 L1165.7,482.7 M1170.8,484.6 L1171.6,482.1 M1173.9,487.2 L1176.2,486.0" stroke="#8f937c" stroke-width="0.8" fill="none"/><circle cx="1169.3" cy="489.6" r="5.2" fill="#e39c44"/><circle cx="1169.3" cy="489.6" r="3.1" fill="#c4cdc9"/><circle cx="1169.3" cy="489.6" r="2.3" fill="#3f8f8c"/><circle cx="1169.3" cy="489.6" r="0.7" fill="#bfe0dc"/>
<rect x="960" y="467.6" width="6" height="6" fill="#f025d8" transform="rotate(35 963 470.6)"/>
<rect x="1076.8" y="471.6" width="3.8" height="3.8" fill="#f025d8" transform="rotate(35 1078.7 473.5)"/>
<rect x="1157.2" y="463.6" width="5.4" height="5.4" fill="#f060e0" transform="rotate(-35 1159.9 466.3)"/>
<circle cx="974.7" cy="481.0" r="11.6" fill="#19c9b7" stroke="#0d7f72" stroke-width="0.9"/><circle cx="971.3" cy="477.6" r="2.5" fill="#17874f"/><circle cx="975.2" cy="476.2" r="2.1" fill="#17874f"/><circle cx="978.6" cy="478.1" r="2.3" fill="#17874f"/><circle cx="977.6" cy="483.4" r="2.5" fill="#17874f"/><circle cx="973.7" cy="485.8" r="2.3" fill="#17874f"/><circle cx="970.8" cy="483.9" r="1.5" fill="#17874f"/><circle cx="976.2" cy="480.5" r="1.4" fill="#17874f"/>
<circle cx="1086.5" cy="478.7" r="8.6" fill="#19c9b7" stroke="#0d7f72" stroke-width="0.9"/><circle cx="1084.0" cy="476.2" r="1.9" fill="#17874f"/><circle cx="1086.9" cy="475.1" r="1.6" fill="#17874f"/><circle cx="1089.4" cy="476.6" r="1.7" fill="#17874f"/><circle cx="1088.7" cy="480.5" r="1.9" fill="#17874f"/><circle cx="1085.8" cy="482.3" r="1.7" fill="#17874f"/><circle cx="1083.6" cy="480.8" r="1.1" fill="#17874f"/><circle cx="1087.6" cy="478.3" r="1.1" fill="#17874f"/>
<circle cx="1147.2" cy="475.5" r="12.6" fill="#19c9b7" stroke="#0d7f72" stroke-width="0.9"/><circle cx="1143.5" cy="471.8" r="2.7" fill="#17874f"/><circle cx="1147.7" cy="470.2" r="2.3" fill="#17874f"/><circle cx="1151.4" cy="472.4" r="2.5" fill="#17874f"/><circle cx="1150.4" cy="478.1" r="2.7" fill="#17874f"/><circle cx="1146.2" cy="480.8" r="2.5" fill="#17874f"/><circle cx="1143.0" cy="478.6" r="1.7" fill="#17874f"/><circle cx="1148.8" cy="475.0" r="1.6" fill="#17874f"/>
<text x="951.2" y="421.3" font-size="21.6" fill="#111" textLength="67.5" lengthAdjust="spacingAndGlyphs" >Vessel</text>
<text x="1032.8" y="432.4" font-size="21.6" fill="#111" textLength="108.5" lengthAdjust="spacingAndGlyphs" >Neutrophil</text>
<path d="M974.8,427.3 L943.6,446.5 M1094.7,435.4 L1085.7,471.6" stroke="#222" stroke-width="0.9" fill="none"/>
<path d="M1200.9,449.5 L1291.6,396 M1203,505.9 L1291.6,523" stroke="#8a8a8a" stroke-width="1" stroke-dasharray="5.5 4.5" fill="none"/>
<rect x="1291.6" y="396" width="159.1" height="127" fill="none" stroke="#8a8a8a" stroke-width="1.1" stroke-dasharray="6 4.6"/>
<path d="M1376.1,451.6 C1380.2,451.9 1386.5,453.2 1391.3,455.0 C1396.1,456.8 1401.6,459.6 1404.8,462.6 C1408.0,465.5 1409.8,468.8 1410.7,472.7 C1411.5,476.6 1411.4,481.7 1409.8,486.2 C1408.3,490.7 1404.5,496.4 1401.4,499.7 C1398.3,502.9 1394.7,504.3 1391.3,505.6 C1387.9,506.8 1384.8,507.3 1381.2,507.3 C1377.5,507.2 1372.7,506.1 1369.4,505.1 C1366.0,504.1 1363.3,503.7 1360.9,501.4 C1358.6,499.1 1356.4,494.9 1355.0,491.2 C1353.6,487.6 1352.7,483.4 1352.5,479.4 C1352.4,475.5 1353.1,471.0 1354.2,467.6 C1355.3,464.3 1357.2,461.6 1359.3,459.2 C1361.4,456.8 1364.0,454.6 1366.8,453.3 C1369.7,452.0 1372.0,451.3 1376.1,451.6Z" fill="#19c9b7" stroke="#0d7f72" stroke-width="1.1"/>
<path d="M1381.2,453.8 C1383.4,454.5 1390.6,455.8 1394.7,457.8 C1398.7,459.9 1403.2,462.9 1405.6,465.9 C1408.0,469.0 1408.4,474.4 1409.0,476.1" fill="none" stroke="#7ff0e2" stroke-width="1.4" stroke-linecap="round"/>
<path d="M1362.6,464.3 C1363.2,462.7 1364.5,460.6 1366.0,460.0 C1367.5,459.5 1370.6,459.9 1371.9,460.9 C1373.2,461.9 1373.6,464.4 1373.6,465.9 C1373.6,467.5 1371.8,469.0 1371.9,470.2 C1372.0,471.3 1374.2,471.6 1374.4,472.7 C1374.7,473.8 1374.6,475.9 1373.6,476.9 C1372.6,477.9 1369.9,478.7 1368.5,478.6 C1367.1,478.5 1365.6,477.2 1365.2,476.1 C1364.7,474.9 1366.4,473.0 1366.0,471.8 C1365.6,470.7 1363.2,470.6 1362.6,469.3 C1362.1,468.1 1362.1,465.8 1362.6,464.3Z" fill="#17874f"/>
<path d="M1378.7,463.4 C1379.4,462.7 1381.7,462.2 1382.9,462.6 C1384.0,463.0 1384.3,465.2 1385.4,465.9 C1386.5,466.6 1387.8,466.8 1389.6,466.8 C1391.4,466.8 1394.2,465.8 1396.4,465.9 C1398.5,466.1 1400.7,466.5 1402.3,467.6 C1403.8,468.8 1405.4,470.9 1405.6,472.7 C1405.9,474.5 1405.1,477.3 1403.9,478.6 C1402.8,479.9 1400.4,480.6 1398.9,480.3 C1397.3,480.0 1395.5,478.5 1394.7,476.9 C1393.8,475.4 1394.7,472.1 1393.8,471.0 C1393.0,469.9 1390.6,469.6 1389.6,470.2 C1388.6,470.7 1388.9,473.3 1387.9,474.4 C1386.9,475.5 1385.0,477.0 1383.7,476.9 C1382.4,476.8 1380.8,474.9 1380.3,473.5 C1379.9,472.1 1381.5,469.6 1381.2,468.5 C1380.9,467.3 1379.1,467.6 1378.7,466.8 C1378.2,465.9 1377.9,464.1 1378.7,463.4Z" fill="#17874f"/>
<path d="M1367.7,479.4 C1368.5,478.6 1371.1,478.7 1371.9,479.4 C1372.7,480.1 1371.9,482.5 1372.7,483.7 C1373.6,484.8 1375.7,485.1 1377.0,486.2 C1378.2,487.3 1380.1,488.7 1380.3,490.4 C1380.6,492.1 1379.8,494.9 1378.7,496.3 C1377.5,497.7 1375.4,498.6 1373.6,498.8 C1371.8,499.1 1369.2,498.5 1367.7,497.6 C1366.1,496.8 1365.0,495.4 1364.3,493.8 C1363.6,492.1 1363.1,489.4 1363.5,487.9 C1363.9,486.3 1366.1,485.9 1366.8,484.5 C1367.5,483.1 1366.8,480.3 1367.7,479.4Z" fill="#17874f"/>
<ellipse cx="1362.2" cy="491.5" rx="1.7" ry="2.6" fill="#eafffb" transform="rotate(-20 1362.2 491.5)"/>
<g fill="#fff" stroke="#e85ad8" stroke-width="0.9"><rect x="-1.3" y="0" width="2.6" height="9.5" rx="1.2" transform="translate(1357.6 501) rotate(32)"/><rect x="-1.3" y="0" width="2.6" height="9.5" rx="1.2" transform="translate(1362.6 504) rotate(32)"/></g>
<circle cx="1315.9" cy="459.7" r="14.0" fill="#fbf3e8" stroke="#ee8f28" stroke-width="1.6"/><circle cx="1315.9" cy="459.7" r="11.60" fill="none" stroke="#f0a045" stroke-width="3.2" stroke-dasharray="1.002 0.820"/><circle cx="1315.9" cy="459.7" r="7.80" fill="none" stroke="#a9b4bf" stroke-width="3.4" stroke-dasharray="0.490 1.144"/><circle cx="1315.9" cy="459.7" r="7.0" fill="url(#coreg)"/>
<circle cx="1425.4" cy="430.2" r="14.0" fill="#fbf3e8" stroke="#ee8f28" stroke-width="1.6"/><circle cx="1425.4" cy="430.2" r="11.60" fill="none" stroke="#f0a045" stroke-width="3.2" stroke-dasharray="1.002 0.820"/><circle cx="1425.4" cy="430.2" r="7.80" fill="none" stroke="#a9b4bf" stroke-width="3.4" stroke-dasharray="0.490 1.144"/><circle cx="1425.4" cy="430.2" r="7.0" fill="url(#coreg)"/>
<g transform="translate(1311.7 444.1) rotate(-105.0)" stroke="#6e7660" stroke-width="1.25" fill="none" stroke-linecap="round"><path d="M0,0 L3.6,0 M3.6,0 L6.6,-2.4 M3.6,0 L6.6,2.4"/></g>
<g transform="translate(1328.3 449.3) rotate(-40.0)" stroke="#6e7660" stroke-width="1.25" fill="none" stroke-linecap="round"><path d="M0,0 L3.6,0 M3.6,0 L6.6,-2.4 M3.6,0 L6.6,2.4"/></g>
<g transform="translate(1300.3 455.5) rotate(195.0)" stroke="#6e7660" stroke-width="1.25" fill="none" stroke-linecap="round"><path d="M0,0 L3.6,0 M3.6,0 L6.6,-2.4 M3.6,0 L6.6,2.4"/></g>
<g transform="translate(1307.8 473.7) rotate(120.0)" stroke="#6e7660" stroke-width="1.25" fill="none" stroke-linecap="round"><path d="M0,0 L3.6,0 M3.6,0 L6.6,-2.4 M3.6,0 L6.6,2.4"/></g>
<g transform="translate(1318.7 475.7) rotate(80.0)" stroke="#6e7660" stroke-width="1.25" fill="none" stroke-linecap="round"><path d="M0,0 L3.6,0 M3.6,0 L6.6,-2.4 M3.6,0 L6.6,2.4"/></g>
<g transform="translate(1420.4 414.8) rotate(-108.0)" stroke="#6e7660" stroke-width="1.25" fill="none" stroke-linecap="round"><path d="M0,0 L3.6,0 M3.6,0 L6.6,-2.4 M3.6,0 L6.6,2.4"/></g>
<g transform="translate(1436.9 418.7) rotate(-45.0)" stroke="#6e7660" stroke-width="1.25" fill="none" stroke-linecap="round"><path d="M0,0 L3.6,0 M3.6,0 L6.6,-2.4 M3.6,0 L6.6,2.4"/></g>
<g transform="translate(1409.4 427.4) rotate(190.0)" stroke="#6e7660" stroke-width="1.25" fill="none" stroke-linecap="round"><path d="M0,0 L3.6,0 M3.6,0 L6.6,-2.4 M3.6,0 L6.6,2.4"/></g>
<g transform="translate(1441.0 434.4) rotate(15.0)" stroke="#6e7660" stroke-width="1.25" fill="none" stroke-linecap="round"><path d="M0,0 L3.6,0 M3.6,0 L6.6,-2.4 M3.6,0 L6.6,2.4"/></g>
<g transform="translate(1428.2 446.2) rotate(80.0)" stroke="#6e7660" stroke-width="1.25" fill="none" stroke-linecap="round"><path d="M0,0 L3.6,0 M3.6,0 L6.6,-2.4 M3.6,0 L6.6,2.4"/></g>
<g transform="translate(1342.4 468.0) rotate(15.0)"><rect x="-6.8" y="-4.6" width="13.6" height="4.4" rx="1.8" fill="#f5a01e" stroke="#c77a10" stroke-width="0.5"/><rect x="-6.8" y="0.2" width="13.6" height="4.4" rx="1.8" fill="#f5a01e" stroke="#c77a10" stroke-width="0.5"/><path d="M-10,0 H-6.8 M6.8,0 H10" stroke="#6e8a60" stroke-width="1"/></g>
<g transform="translate(1408.5 453.5) rotate(-62.0)"><rect x="-6.8" y="-4.6" width="13.6" height="4.4" rx="1.8" fill="#f5a01e" stroke="#c77a10" stroke-width="0.5"/><rect x="-6.8" y="0.2" width="13.6" height="4.4" rx="1.8" fill="#f5a01e" stroke="#c77a10" stroke-width="0.5"/><path d="M-10,0 H-6.8 M6.8,0 H10" stroke="#6e8a60" stroke-width="1"/></g>
<!-- 70_panel4.py -->
<defs>
<linearGradient id="cone" x1="0" y1="0" x2="0" y2="1"><stop offset="0" stop-color="#ff1a1a"/><stop offset="0.5" stop-color="#ff5a5a"/><stop offset="1" stop-color="#ffc8c8"/></linearGradient>
<linearGradient id="epi" x1="0" y1="0" x2="0" y2="1"><stop offset="0" stop-color="#fdf1ee"/><stop offset="1" stop-color="#f9dcd8"/></linearGradient>
<pattern id="fat" width="11" height="9" patternUnits="userSpaceOnUse" patternTransform="rotate(18)"><rect width="11" height="9" fill="#f8d74e"/><ellipse cx="2.5" cy="2.2" rx="1.8" ry="1.2" fill="#fae37a"/><ellipse cx="8" cy="6.4" rx="1.6" ry="1.1" fill="#fae37a"/><path d="M5.5,3.6 l1.6,0.8 M1.2,6.8 l1.4,-0.9 M9.2,1.6 l0.9,1.2" stroke="#f0a83a" stroke-width="0.7" fill="none"/></pattern>
</defs>
<g transform="translate(894.60 566.30) scale(0.9913 0.7529)">
<defs><linearGradient id="obb" x1="0" y1="0" x2="1" y2="0"><stop offset="0" stop-color="#8f8f8f"/><stop offset="0.18" stop-color="#c9c9c9"/><stop offset="0.45" stop-color="#f4f4f4"/><stop offset="0.7" stop-color="#c4c4c4"/><stop offset="1" stop-color="#8a8a8a"/></linearGradient>
<linearGradient id="ogb" x1="0" y1="0" x2="0" y2="1"><stop offset="0" stop-color="#1fa51f"/><stop offset="0.5" stop-color="#189418"/><stop offset="0.55" stop-color="#0c6a0c"/><stop offset="1" stop-color="#0f7a0f"/></linearGradient></defs>
<rect x="7" y="0" width="42.5" height="5" rx="1.5" fill="#dcdcdc"/>
<rect x="1" y="4.5" width="54.8" height="9.2" rx="2" fill="url(#obb)"/>
<rect x="0.3" y="15" width="56.7" height="15.5" rx="3.2" fill="#f6f6f6" stroke="#8c8c8c" stroke-width="0.7"/>
<rect x="2.6" y="13.4" width="52" height="19" fill="#b4b4b4"/>
<rect x="4.40" y="13.8" width="2.5" height="18.2" fill="#f0f0f0"/><rect x="3.50" y="13.8" width="0.7" height="18.2" fill="#8e8e8e"/><rect x="9.06" y="13.8" width="2.5" height="18.2" fill="#f0f0f0"/><rect x="8.16" y="13.8" width="0.7" height="18.2" fill="#8e8e8e"/><rect x="13.72" y="13.8" width="2.5" height="18.2" fill="#f0f0f0"/><rect x="12.82" y="13.8" width="0.7" height="18.2" fill="#8e8e8e"/><rect x="18.38" y="13.8" width="2.5" height="18.2" fill="#f0f0f0"/><rect x="17.48" y="13.8" width="0.7" height="18.2" fill="#8e8e8e"/><rect x="23.04" y="13.8" width="2.5" height="18.2" fill="#f0f0f0"/><rect x="22.14" y="13.8" width="0.7" height="18.2" fill="#8e8e8e"/><rect x="27.70" y="13.8" width="2.5" height="18.2" fill="#f0f0f0"/><rect x="26.80" y="13.8" width="0.7" height="18.2" fill="#8e8e8e"/><rect x="32.36" y="13.8" width="2.5" height="18.2" fill="#f0f0f0"/><rect x="31.46" y="13.8" width="0.7" height="18.2" fill="#8e8e8e"/><rect x="37.02" y="13.8" width="2.5" height="18.2" fill="#f0f0f0"/><rect x="36.12" y="13.8" width="0.7" height="18.2" fill="#8e8e8e"/><rect x="41.68" y="13.8" width="2.5" height="18.2" fill="#f0f0f0"/><rect x="40.78" y="13.8" width="0.7" height="18.2" fill="#8e8e8e"/><rect x="46.34" y="13.8" width="2.5" height="18.2" fill="#f0f0f0"/><rect x="45.44" y="13.8" width="0.7" height="18.2" fill="#8e8e8e"/><rect x="51.00" y="13.8" width="2.5" height="18.2" fill="#f0f0f0"/><rect x="50.10" y="13.8" width="0.7" height="18.2" fill="#8e8e8e"/>
<rect x="2.6" y="31.6" width="52" height="1" fill="#7a7a7a"/>
<rect x="2.8" y="32.2" width="51.4" height="19.6" fill="url(#obb)"/>
<rect x="2.8" y="51.3" width="51.4" height="8.7" fill="url(#ogb)"/>
<path d="M2.8,60 H54.2 V62 L43,70.3 H14.2 L2.8,62Z" fill="url(#obb)"/>
<path d="M15.5,69.6 H41.5 L40,71.4 H17Z" fill="#3a3a3a"/>
<path d="M18,71.2 H39 C37,75 33,76.5 28.5,76.5 C24,76.5 20,75 18,71.2Z" fill="url(#obb)"/>
</g>
<path d="M913.8,623.8 H932.3 L928.6,635.8 H918.4Z" fill="url(#cone)"/>
<path d="M867.1,656.0 L892.6,648.9 L920.9,647.3 L947.0,650.6 L968.8,657.6 L968.8,721.3 L867.1,720.7Z" fill="url(#fat)"/>
<path d="M968.8,657.6 L977.5,645.1 L977.5,712.0 L968.8,721.3Z" fill="#f3d03c"/>
<path d="M968.8,657.6 L977.5,645.1 L977.5,657.6 L968.8,669.6Z" fill="#eeb0bc"/>
<path d="M968.8,711.5 L977.5,702.8 L977.5,712.0 L968.8,721.3Z" fill="#dca638"/>
<path d="M882.8,663.1 C886.2,662.1 896.4,660.9 903.5,660.4 C910.6,659.8 918.0,659.6 925.3,660.0 C932.5,660.5 942.5,662.0 947.0,663.1 C951.6,664.1 952.7,665.4 952.5,666.3 C952.3,667.2 948.7,667.6 945.9,668.5 C943.2,669.4 936.7,670.5 936.2,671.8 C935.6,673.0 942.0,674.5 942.7,676.1 C943.4,677.8 942.0,681.0 940.5,681.6 C939.1,682.1 935.8,680.3 934.0,679.4 C932.2,678.5 930.7,676.0 929.6,676.1 C928.5,676.3 928.2,678.9 927.4,680.5 C926.7,682.1 926.4,686.1 925.3,685.9 C924.2,685.7 922.7,680.7 920.9,679.4 C919.1,678.1 916.4,677.9 914.4,678.3 C912.4,678.7 910.0,679.6 909.0,681.6 C907.9,683.6 908.4,688.5 907.9,690.3 C907.3,692.1 906.8,692.4 905.7,692.4 C904.6,692.4 903.0,690.8 901.3,690.3 C899.7,689.7 897.4,690.3 895.9,689.2 C894.5,688.1 892.8,685.4 892.6,683.7 C892.5,682.1 894.8,680.7 894.8,679.4 C894.8,678.1 894.1,676.7 892.6,676.1 C891.2,675.6 888.1,675.6 886.1,676.1 C884.1,676.7 881.4,679.8 880.7,679.4 C879.9,679.0 880.9,675.4 881.8,674.0 C882.7,672.5 885.8,672.0 886.1,670.7 C886.4,669.4 883.9,667.6 883.4,666.3 C882.8,665.1 879.5,664.1 882.8,663.1Z" fill="#dcebf4"/>
<path d="M870.9,662.0 C871.4,663.1 873.1,666.0 874.1,668.5 C875.2,671.1 876.6,674.3 877.4,677.2 C878.2,680.1 878.9,682.8 879.0,685.9 C879.1,689.0 878.1,694.1 878.0,695.7" stroke="#e0702a" stroke-width="0.8" fill="none"/>
<path d="M877.4,658.7 C877.2,660.0 876.1,664.0 876.3,666.3 C876.5,668.7 878.0,670.3 878.5,672.9 C879.0,675.4 879.4,680.1 879.6,681.6" stroke="#e0702a" stroke-width="0.7" fill="none"/>
<path d="M876.3,660.9 C877.2,660.9 880.1,661.4 881.8,660.9 C883.4,660.4 885.4,658.2 886.1,657.6" stroke="#e04a5a" stroke-width="0.7" fill="none"/>
<path d="M867.1,656.0 L892.6,648.9 L920.9,647.3 L947.0,650.6 L968.8,657.6 L968.8,669.6 L947.0,662.5 L925.3,659.6 L903.5,659.8 L881.8,662.0 L867.1,668.5 Z" fill="#f2a7b6"/>
<path d="M873.1,657.1 C876.3,656.3 884.7,653.3 892.6,652.2 C900.6,651.1 911.9,650.3 920.9,650.6 C930.0,650.8 939.8,652.1 947.0,653.5 C954.3,654.9 961.5,657.9 964.4,658.7" stroke="#f9d0d4" stroke-width="2.6" fill="none"/>
<path d="M876.8,656.6 l2.6,0 l-1.3,2.6Z M882.6,655.3 l2.6,0 l-1.3,2.6Z M888.4,654.2 l2.6,0 l-1.3,2.6Z M894.2,653.3 l2.6,0 l-1.3,2.6Z M900.0,652.6 l2.6,0 l-1.3,2.6Z M905.8,652.1 l2.6,0 l-1.3,2.6Z M911.6,651.8 l2.6,0 l-1.3,2.6Z M917.4,651.8 l2.6,0 l-1.3,2.6Z M923.2,652.0 l2.6,0 l-1.3,2.6Z M929.1,652.3 l2.6,0 l-1.3,2.6Z M934.9,652.9 l2.6,0 l-1.3,2.6Z M940.7,653.7 l2.6,0 l-1.3,2.6Z M946.5,655.8 l2.6,0 l-1.3,2.6Z M952.3,657.1 l2.6,0 l-1.3,2.6Z M958.1,658.5 l2.6,0 l-1.3,2.6Z" fill="#f9d0d4"/>
<path d="M867.1,656.0 C873.1,646.8 879.6,641.3 887.2,638.1 Q912.2,633.2 947.0,635.3 Q959.0,637.3 977.5,645.1 L968.8,657.6 C962.3,654.4 953.6,651.7 947.0,650.6 Q920.9,647.3 892.6,648.9 Q882.6,650.4 867.1,656.0 Z" fill="url(#epi)" stroke="#9a8a88" stroke-width="0.35"/>
<clipPath id="ffc"><path d="M867.1,656.0 L892.6,648.9 L920.9,647.3 L947.0,650.6 L968.8,657.6 L968.8,721.3 L867.1,720.7Z"/></clipPath>
<g clip-path="url(#ffc)">
<path d="M855.6,700.1 C857.0,698.4 861.5,699.5 867.1,699.0 C872.7,698.5 897.7,696.2 903.5,695.7 C909.3,695.3 914.0,695.2 916.6,695.2 C919.1,695.2 923.5,695.9 925.3,695.7 C927.1,695.5 929.3,693.7 931.8,693.8 C934.3,693.8 943.2,695.9 947.0,696.3 C950.8,696.6 961.8,696.2 964.4,696.8 C967.1,697.4 969.2,699.9 969.9,701.2 C970.5,702.4 970.5,706.5 969.9,707.7 C969.2,708.8 969.6,710.7 964.4,711.2 C959.2,711.7 936.6,711.8 925.3,712.0 C913.9,712.3 875.2,713.0 867.1,713.1 C858.9,713.3 857.0,714.9 855.6,713.3 C854.3,711.8 854.3,701.7 855.6,700.1Z" fill="#cf1a28"/>
<path d="M870.3,702.8 C874.4,702.1 897.1,700.4 903.5,700.1 C909.9,699.7 920.2,700.1 925.3,700.1 C930.4,700.1 942.6,699.9 947.0,700.1 C951.5,700.2 961.1,700.6 963.4,701.2 C965.6,701.7 966.6,703.7 966.6,704.4 C966.6,705.2 966.9,707.2 963.4,707.7 C959.8,708.2 943.1,708.6 936.2,708.8 C929.2,709.0 909.9,709.2 903.5,709.3 C897.2,709.4 885.6,709.9 881.8,709.9 C877.9,709.8 871.9,709.3 870.3,708.8 C868.8,708.3 868.7,706.4 868.7,705.7 C868.7,705.0 866.3,703.4 870.3,702.8Z" fill="#f7c6bf"/>
</g>
<ellipse cx="874.1" cy="705.0" rx="2.4" ry="1.9" fill="#c2604f" stroke="#9a4034" stroke-width="0.35"/>
<ellipse cx="878.0" cy="706.0" rx="2.4" ry="1.9" fill="#c2604f" stroke="#9a4034" stroke-width="0.35"/>
<ellipse cx="881.8" cy="705.0" rx="2.4" ry="1.9" fill="#c2604f" stroke="#9a4034" stroke-width="0.35"/>
<ellipse cx="905.7" cy="705.5" rx="2.4" ry="1.9" fill="#c2604f" stroke="#9a4034" stroke-width="0.35"/>
<ellipse cx="911.1" cy="705.3" rx="2.4" ry="1.9" fill="#c2604f" stroke="#9a4034" stroke-width="0.35"/>
<ellipse cx="916.0" cy="705.7" rx="2.4" ry="1.9" fill="#c2604f" stroke="#9a4034" stroke-width="0.35"/>
<ellipse cx="935.1" cy="703.1" rx="2.4" ry="1.9" fill="#c2604f" stroke="#9a4034" stroke-width="0.35"/>
<ellipse cx="940.0" cy="702.5" rx="2.4" ry="1.9" fill="#c2604f" stroke="#9a4034" stroke-width="0.35"/>
<ellipse cx="944.9" cy="703.5" rx="2.4" ry="1.9" fill="#c2604f" stroke="#9a4034" stroke-width="0.35"/>
<ellipse cx="955.7" cy="704.2" rx="2.4" ry="1.9" fill="#c2604f" stroke="#9a4034" stroke-width="0.35"/>
<ellipse cx="962.8" cy="704.0" rx="2.4" ry="1.9" fill="#c2604f" stroke="#9a4034" stroke-width="0.35"/>
<circle cx="891.5" cy="705.3" r="3.6" fill="#1a9f8c" stroke="#0d6a60" stroke-width="0.5"/>
<path d="M905.7,690.3 C906.3,690.5 907.7,692.3 907.9,693.5 C908.0,694.8 907.5,696.4 906.8,697.9 C906.1,699.3 904.5,701.3 903.5,702.2 C902.5,703.2 901.4,703.6 900.8,703.5 C900.2,703.5 899.7,702.4 900.0,701.7 C900.4,701.0 902.2,700.5 903.0,699.5 C903.7,698.5 904.4,697.0 904.6,695.7 C904.8,694.4 903.9,692.8 904.1,691.9 C904.2,691.0 905.1,690.0 905.7,690.3Z" fill="#1f7f86" stroke="#0d4a56" stroke-width="0.4"/>
<path d="M920.9,685.9 C921.7,685.7 923.1,687.8 924.2,687.6 C925.3,687.3 926.5,684.5 927.4,684.3 C928.4,684.1 929.4,685.5 929.6,686.5 C929.8,687.5 928.9,688.6 928.5,690.3 C928.2,692.0 928.0,695.6 927.4,696.8 C926.9,698.0 925.7,698.6 925.3,697.7 C924.9,696.8 925.6,692.6 925.1,691.4 C924.5,690.1 923.0,690.6 922.0,690.3 C921.0,689.9 919.5,689.9 919.3,689.2 C919.1,688.5 920.1,686.2 920.9,685.9Z" fill="#1a9f8c" stroke="#0d6a60" stroke-width="0.4"/>
<path d="M948.7,690.3 C949.1,689.2 951.1,688.1 952.5,688.1 C953.8,688.1 955.4,690.3 956.8,690.3 C958.3,690.2 959.8,687.9 961.2,687.9 C962.5,687.9 964.2,689.3 965.0,690.3 C965.8,691.2 966.5,692.6 966.1,693.5 C965.6,694.4 963.6,695.6 962.3,695.7 C960.9,695.8 959.4,694.0 957.9,694.1 C956.5,694.2 954.9,696.2 953.6,696.3 C952.2,696.3 950.6,695.6 949.8,694.6 C948.9,693.6 948.2,691.4 948.7,690.3Z" fill="#169a7e" stroke="#0d6a58" stroke-width="0.4"/>
<path d="M867.1,713.1 L925.3,712.0 L968.8,711.5 L968.8,721.3 L867.1,720.7Z" fill="#eab443"/>
<path d="M867.1,716.9 L968.8,716.2" stroke="#d89a30" stroke-width="0.5"/>
<path d="M1006.6,637.4 H1065.6" stroke="#1c1c1c" stroke-width="1.9" fill="none"/><path d="M1071.9,637.4 l-10.4,-3.9 l2.5,3.9 l-2.5,3.9 Z" fill="#111"/>
<path d="M1125,686 H1188.5 L1196.5,706.7 H1117.5Z" fill="#b2b2b0" stroke="#1b6966" stroke-width="1.8" stroke-linejoin="miter"/>
<path d="M1143,673.5 H1170.2 L1172,693.5 H1140.2Z" fill="#d2d0cd" stroke="#1b6966" stroke-width="1.8"/>
<rect x="1097.3" y="580.8" width="118.8" height="92.6" rx="1.5" fill="#f3f1ef" stroke="#1b6966" stroke-width="2"/>
<rect x="1104" y="588.6" width="105.7" height="76.7" rx="5.5" fill="#a19f9d"/>
<text x="1112.0" y="606.0" font-size="22.0" fill="#161616" textLength="98.5" lengthAdjust="spacingAndGlyphs" >LabVIEW</text>
<rect x="1200.3" y="608.5" width="4.7" height="33.3" fill="#f1e9e9"/>
<path d="M1159.8,633.9 h22.5 l6.4,-4.5 h-22.5Z" fill="#4a4a4a"/>
<path d="M1163.4,629.0 h22.5 l6.4,-4.5 h-22.5Z" fill="#565656"/>
<path d="M1167.0,624.1 h22.5 l6.4,-4.5 h-22.5Z" fill="#4a4a4a"/>
<path d="M1170.6,619.2 h22.5 l6.4,-4.5 h-22.5Z" fill="#565656"/>
<circle cx="1140.6" cy="642.2" r="1.5" fill="#141414"/>
<circle cx="1145.5" cy="642.2" r="1.5" fill="#141414"/>
<circle cx="1150.5" cy="642.2" r="1.5" fill="#141414"/>
<circle cx="1155.4" cy="642.2" r="1.5" fill="#141414"/>
<circle cx="1160.4" cy="642.2" r="1.5" fill="#141414"/>
<circle cx="1165.3" cy="642.2" r="1.5" fill="#141414"/>
<circle cx="1170.3" cy="642.2" r="1.5" fill="#141414"/>
<path d="M1245.4,637.7 H1305.0" stroke="#1c1c1c" stroke-width="1.9" fill="none"/><path d="M1311.3,637.7 l-10.4,-3.9 l2.5,3.9 l-2.5,3.9 Z" fill="#111"/>
<rect x="1339.6" y="600.0" width="110.0" height="110.0" fill="#000"/>
<rect x="1335.2" y="595.6" width="110.0" height="110.0" fill="#000"/>
<rect x="1330.8" y="591.2" width="110.0" height="110.0" fill="#000"/>
<rect x="1326.4" y="586.8" width="110.0" height="110.0" fill="#000"/>
<g filter="url(#bl1)">
<circle cx="1443.7" cy="630.0" r="1.8" fill="#e8e8f0" opacity="0.80"/>
<circle cx="1441.0" cy="642.2" r="1.8" fill="#ffffff" opacity="0.90"/>
<circle cx="1436.5" cy="653.9" r="2.2" fill="#58c060" opacity="0.70"/>
<circle cx="1339.9" cy="698.8" r="1.6" fill="#b090c0" opacity="0.60"/>
<circle cx="1375.1" cy="704.2" r="2.2" fill="#60e070" opacity="0.90"/>
<circle cx="1435.5" cy="648.4" r="1.4" fill="#58c060" opacity="0.50"/>
</g>
<path d="M1445.7,600.0 V706.1 H1339.6" fill="none" stroke="#d8d8d8" stroke-width="0.9"/>
<path d="M1441.3,595.6 V701.7 H1335.2" fill="none" stroke="#d8d8d8" stroke-width="0.9"/>
<path d="M1436.9,591.2 V697.3 H1330.8" fill="none" stroke="#d8d8d8" stroke-width="0.9"/>
<path d="M1432.5,586.8 V692.9 H1326.4" fill="none" stroke="#d8d8d8" stroke-width="0.9"/>
<rect x="1322.0" y="582.4" width="110.0" height="110.0" fill="#000"/>
<rect x="1338.0" y="599.2" width="94.0" height="93.2" fill="#050307"/>
<path d="M1338.0,599.4 V692.4" stroke="#5a3a5e" stroke-width="0.6"/>
<g filter="url(#bl1)">
<ellipse cx="1343.6" cy="622.8" rx="4.5" ry="3.0" fill="#ffffff" opacity="1.00" transform="rotate(35 1343.6 622.8)"/>
<ellipse cx="1387.7" cy="601.8" rx="2.2" ry="2.2" fill="#9ab89a" opacity="0.80" transform="rotate(0 1387.7 601.8)"/>
<ellipse cx="1412.3" cy="613.1" rx="2.4" ry="2.4" fill="#f4fff4" opacity="1.00" transform="rotate(0 1412.3 613.1)"/>
<ellipse cx="1406.9" cy="617.4" rx="2.3" ry="2.3" fill="#f0f4f0" opacity="1.00" transform="rotate(0 1406.9 617.4)"/>
<ellipse cx="1380.1" cy="652.5" rx="2.0" ry="2.0" fill="#7a807a" opacity="0.70" transform="rotate(0 1380.1 652.5)"/>
<ellipse cx="1425.8" cy="649.0" rx="3.9" ry="2.6" fill="#6ad070" opacity="0.85" transform="rotate(-40 1425.8 649.0)"/>
<ellipse cx="1398.8" cy="663.4" rx="2.0" ry="2.0" fill="#3a9a48" opacity="0.70" transform="rotate(0 1398.8 663.4)"/>
<ellipse cx="1424.9" cy="669.5" rx="3.4" ry="2.8" fill="#90ffa0" opacity="1.00" transform="rotate(80 1424.9 669.5)"/>
<ellipse cx="1351.8" cy="670.6" rx="2.0" ry="2.0" fill="#a898b0" opacity="0.75" transform="rotate(0 1351.8 670.6)"/>
<ellipse cx="1361.1" cy="670.6" rx="1.6" ry="1.6" fill="#606860" opacity="0.60" transform="rotate(0 1361.1 670.6)"/>
<ellipse cx="1369.2" cy="677.6" rx="2.2" ry="2.2" fill="#b0b8b0" opacity="0.80" transform="rotate(0 1369.2 677.6)"/>
<ellipse cx="1379.0" cy="688.4" rx="2.6" ry="2.6" fill="#a0ffb0" opacity="1.00" transform="rotate(0 1379.0 688.4)"/>
<ellipse cx="1430.2" cy="689.8" rx="2.0" ry="2.0" fill="#48b058" opacity="0.80" transform="rotate(0 1430.2 689.8)"/>
<ellipse cx="1344.0" cy="599.9" rx="2.6" ry="1.6" fill="#8a5a90" opacity="0.50" transform="rotate(0 1344.0 599.9)"/>
</g>
<!-- 80_panel5.py -->
<rect x="837.4" y="768.7" width="129.5" height="125.2" fill="#333333"/>
<path d="M892.5,781.1 C894.4,778.9 897.5,778.9 899.9,780.2 L919.4,790.3 L899.9,807.0 C897.5,809.8 898.1,814.4 901.8,816.6 C917.5,823.6 936.0,832.0 950.8,844.9 C958.2,851.4 963.8,857.9 967.1,863.4 L962.8,869.9 C954.5,861.6 939.7,849.5 924.9,841.2 C912.0,834.7 897.2,832.0 883.3,819.9 C875.0,830.1 869.0,848.6 867.6,873.6 L839.8,859.7 C845.4,833.8 865.7,798.7 892.5,781.1Z" fill="#3fd6c2" stroke="#3fd6c2" stroke-width="11" stroke-linejoin="round" filter="url(#bl3)" opacity="0.62"/>
<path d="M892.5,781.1 C894.4,778.9 897.5,778.9 899.9,780.2 L919.4,790.3 L899.9,807.0 C897.5,809.8 898.1,814.4 901.8,816.6 C917.5,823.6 936.0,832.0 950.8,844.9 C958.2,851.4 963.8,857.9 967.1,863.4 L962.8,869.9 C954.5,861.6 939.7,849.5 924.9,841.2 C912.0,834.7 897.2,832.0 883.3,819.9 C875.0,830.1 869.0,848.6 867.6,873.6 L839.8,859.7 C845.4,833.8 865.7,798.7 892.5,781.1Z" fill="#0d5c50" stroke="#9df0e2" stroke-width="0.9" stroke-linejoin="round"/>
<path d="M892.5,781.1 C894.4,778.9 897.5,778.9 899.9,780.2 L919.4,790.3 L899.9,807.0 C897.5,809.8 898.1,814.4 901.8,816.6 C917.5,823.6 936.0,832.0 950.8,844.9 C958.2,851.4 963.8,857.9 967.1,863.4 L962.8,869.9 C954.5,861.6 939.7,849.5 924.9,841.2 C912.0,834.7 897.2,832.0 883.3,819.9 C875.0,830.1 869.0,848.6 867.6,873.6 L839.8,859.7 C845.4,833.8 865.7,798.7 892.5,781.1Z" fill="none" stroke="#0a4f45" stroke-width="5" stroke-linejoin="round" opacity="0.5" clip-path="url(#vs5)"/><clipPath id="vs5"><path d="M892.5,781.1 C894.4,778.9 897.5,778.9 899.9,780.2 L919.4,790.3 L899.9,807.0 C897.5,809.8 898.1,814.4 901.8,816.6 C917.5,823.6 936.0,832.0 950.8,844.9 C958.2,851.4 963.8,857.9 967.1,863.4 L962.8,869.9 C954.5,861.6 939.7,849.5 924.9,841.2 C912.0,834.7 897.2,832.0 883.3,819.9 C875.0,830.1 869.0,848.6 867.6,873.6 L839.8,859.7 C845.4,833.8 865.7,798.7 892.5,781.1Z"/></clipPath>
<circle cx="912.0" cy="791.6" r="4.1" fill="#e6407f"/>
<circle cx="870.6" cy="804.5" r="3.9" fill="#e6407f"/>
<circle cx="867.6" cy="808.3" r="4.8" fill="#e6407f"/>
<circle cx="915.7" cy="833.4" r="4.1" fill="#e6407f"/>
<circle cx="944.9" cy="853.8" r="4.1" fill="#e6407f"/>
<path d="M975.2,831.6 H1033.8" stroke="#1c1c1c" stroke-width="1.9" fill="none"/><path d="M1040.1,831.6 l-10.4,-3.9 l2.5,3.9 l-2.5,3.9 Z" fill="#111"/>
<rect x="1067.0" y="787.2" width="110.0" height="110.0" fill="#000"/>
<rect x="1062.6" y="782.8" width="110.0" height="110.0" fill="#000"/>
<rect x="1058.2" y="778.4" width="110.0" height="110.0" fill="#000"/>
<rect x="1053.8" y="774.0" width="110.0" height="110.0" fill="#000"/>
<g filter="url(#bl1)">
<circle cx="1171.1" cy="817.2" r="1.8" fill="#e8e8f0" opacity="0.80"/>
<circle cx="1168.4" cy="829.4" r="1.8" fill="#ffffff" opacity="0.90"/>
<circle cx="1163.9" cy="841.1" r="2.2" fill="#58c060" opacity="0.70"/>
<circle cx="1067.3" cy="886.0" r="1.6" fill="#b090c0" opacity="0.60"/>
<circle cx="1102.5" cy="891.4" r="2.2" fill="#60e070" opacity="0.90"/>
<circle cx="1162.9" cy="835.6" r="1.4" fill="#58c060" opacity="0.50"/>
</g>
<path d="M1173.1,787.2 V893.3 H1067.0" fill="none" stroke="#d8d8d8" stroke-width="0.9"/>
<path d="M1168.7,782.8 V888.9 H1062.6" fill="none" stroke="#d8d8d8" stroke-width="0.9"/>
<path d="M1164.3,778.4 V884.5 H1058.2" fill="none" stroke="#d8d8d8" stroke-width="0.9"/>
<path d="M1159.9,774.0 V880.1 H1053.8" fill="none" stroke="#d8d8d8" stroke-width="0.9"/>
<rect x="1049.4" y="769.6" width="110.0" height="110.0" fill="#000"/>
<rect x="1065.4" y="786.4" width="94.0" height="93.2" fill="#050307"/>
<path d="M1065.4,786.6 V879.6" stroke="#5a3a5e" stroke-width="0.6"/>
<g filter="url(#bl1)">
<ellipse cx="1071.0" cy="810.0" rx="4.5" ry="3.0" fill="#ffffff" opacity="1.00" transform="rotate(35 1071.0 810.0)"/>
<ellipse cx="1115.1" cy="789.0" rx="2.2" ry="2.2" fill="#9ab89a" opacity="0.80" transform="rotate(0 1115.1 789.0)"/>
<ellipse cx="1139.7" cy="800.3" rx="2.4" ry="2.4" fill="#f4fff4" opacity="1.00" transform="rotate(0 1139.7 800.3)"/>
<ellipse cx="1134.3" cy="804.6" rx="2.3" ry="2.3" fill="#f0f4f0" opacity="1.00" transform="rotate(0 1134.3 804.6)"/>
<ellipse cx="1107.5" cy="839.7" rx="2.0" ry="2.0" fill="#7a807a" opacity="0.70" transform="rotate(0 1107.5 839.7)"/>
<ellipse cx="1153.2" cy="836.2" rx="3.9" ry="2.6" fill="#6ad070" opacity="0.85" transform="rotate(-40 1153.2 836.2)"/>
<ellipse cx="1126.2" cy="850.6" rx="2.0" ry="2.0" fill="#3a9a48" opacity="0.70" transform="rotate(0 1126.2 850.6)"/>
<ellipse cx="1152.3" cy="856.7" rx="3.4" ry="2.8" fill="#90ffa0" opacity="1.00" transform="rotate(80 1152.3 856.7)"/>
<ellipse cx="1079.2" cy="857.8" rx="2.0" ry="2.0" fill="#a898b0" opacity="0.75" transform="rotate(0 1079.2 857.8)"/>
<ellipse cx="1088.5" cy="857.8" rx="1.6" ry="1.6" fill="#606860" opacity="0.60" transform="rotate(0 1088.5 857.8)"/>
<ellipse cx="1096.6" cy="864.8" rx="2.2" ry="2.2" fill="#b0b8b0" opacity="0.80" transform="rotate(0 1096.6 864.8)"/>
<ellipse cx="1106.4" cy="875.6" rx="2.6" ry="2.6" fill="#a0ffb0" opacity="1.00" transform="rotate(0 1106.4 875.6)"/>
<ellipse cx="1157.6" cy="877.0" rx="2.0" ry="2.0" fill="#48b058" opacity="0.80" transform="rotate(0 1157.6 877.0)"/>
<ellipse cx="1071.4" cy="787.1" rx="2.6" ry="1.6" fill="#8a5a90" opacity="0.50" transform="rotate(0 1071.4 787.1)"/>
</g>
<path d="M1187.3,831.6 H1246.2" stroke="#1c1c1c" stroke-width="1.9" fill="none"/><path d="M1252.5,831.6 l-10.4,-3.9 l2.5,3.9 l-2.5,3.9 Z" fill="#111"/>
<path d="M1258.6,766 V894.2 H1404" fill="none" stroke="#808080" stroke-width="1"/>
<path d="M1258.6,760.4 l-2.6,7 h5.2Z M1409.8,894.2 l-7,-2.6 v5.2Z" fill="#4a4a4a"/>
<path d="M1257.9,871 L1292.2,862.9" stroke="#1616e0" stroke-width="1.5" fill="none" stroke-linecap="round"/>
<path d="M1292.2,862.9 C1291.9,861.5 1291.2,857.4 1290.6,854.5 C1290.0,851.6 1288.5,848.8 1288.6,845.8 C1288.7,842.8 1289.5,839.5 1291.4,836.2 C1293.3,832.9 1297.8,829.6 1300.1,825.8 C1302.4,822.0 1302.8,817.4 1305.3,813.6 C1307.8,809.8 1311.0,806.5 1314.9,803.1 C1318.8,799.8 1324.7,796.7 1328.8,793.5 C1332.9,790.3 1336.8,787.0 1339.3,784.0 C1341.8,781.0 1343.3,776.8 1344.1,775.3" stroke="#1616e0" stroke-width="1.5" fill="none" stroke-linecap="round"/>
<path d="M1297.5,892.8 C1298.7,890.8 1301.5,884.4 1304.4,880.6 C1307.3,876.8 1310.5,873.0 1314.9,870.2 C1319.3,867.5 1326.8,866.3 1330.6,864.1 C1334.4,861.9 1335.2,859.9 1337.5,857.1 C1339.8,854.3 1341.0,850.2 1344.5,847.5 C1348.0,844.8 1354.1,842.3 1358.4,840.6 C1362.8,838.9 1367.5,838.3 1370.6,837.1 C1373.6,835.9 1375.7,834.2 1376.7,833.6" stroke="#c23030" stroke-width="1.3" fill="none" stroke-linecap="round"/>
<text x="1271.6" y="778.2" font-size="22.0" fill="#111" textLength="139.0" lengthAdjust="spacingAndGlyphs" >Tracking path</text>
<text x="1305.0" y="828.4" font-size="22.0" fill="#111" textLength="163.5" lengthAdjust="spacingAndGlyphs" >Flowing velocity</text>
</svg>
</body></html>
